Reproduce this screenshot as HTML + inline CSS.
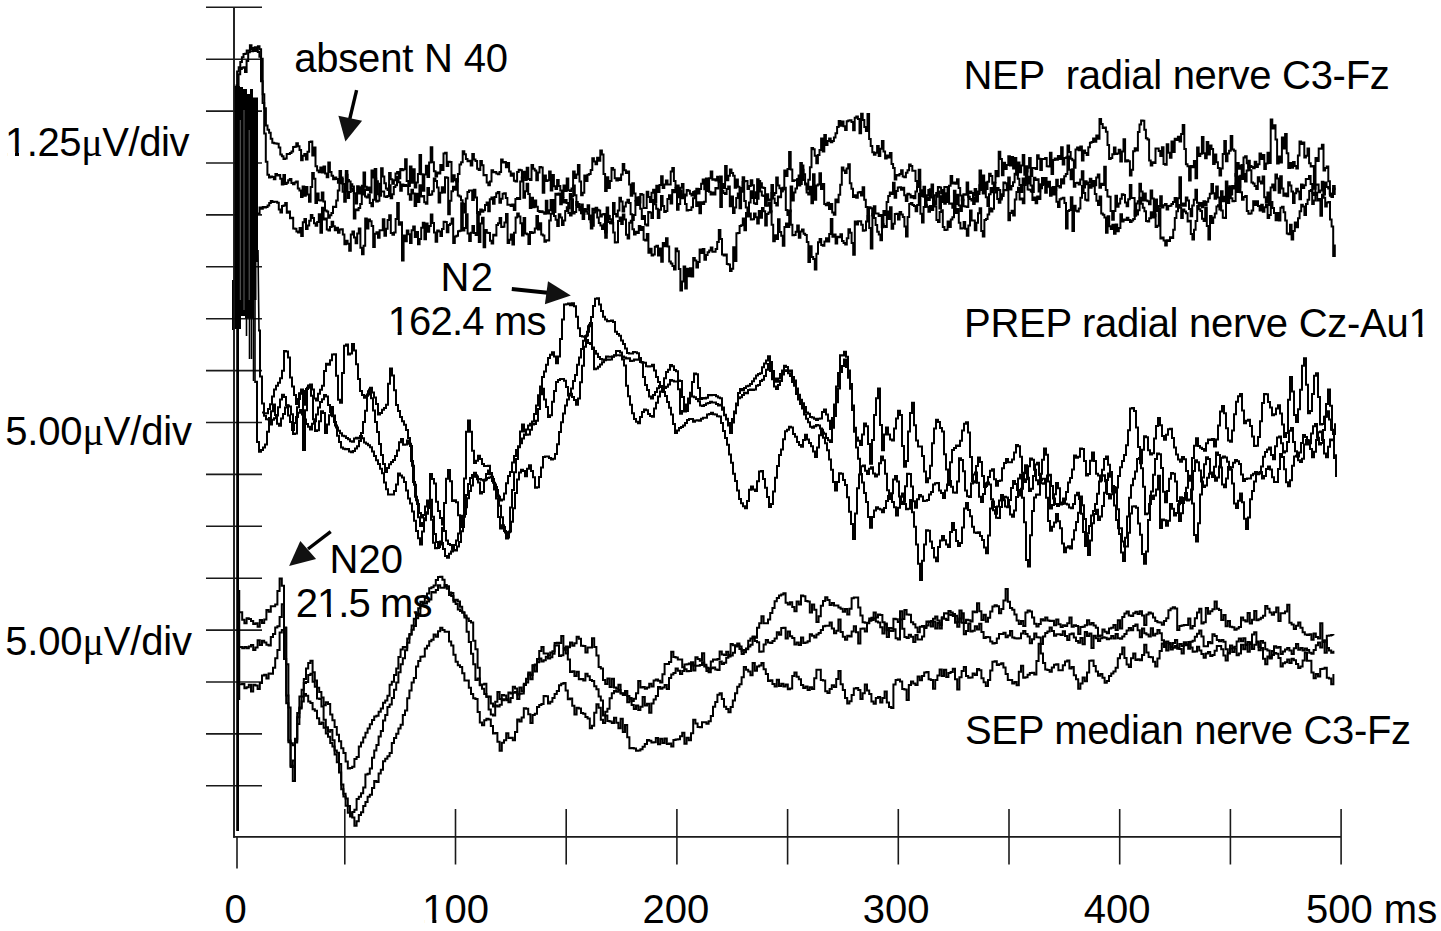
<!DOCTYPE html>
<html><head><meta charset="utf-8"><style>
html,body{margin:0;padding:0;background:#fff;}
svg{display:block;}
text{font-family:"Liberation Sans",sans-serif;font-size:40px;fill:#000;}
.mu{font-family:"Liberation Serif",serif;}
</style></head><body>
<svg width="1441" height="931" viewBox="0 0 1441 931">
<rect width="1441" height="931" fill="#fff"/>
<g stroke="#1a1a1a" stroke-width="1.6" fill="none">
<line x1="206" y1="7.3" x2="262" y2="7.3"/>
<line x1="206" y1="59.2" x2="262" y2="59.2"/>
<line x1="206" y1="111.1" x2="262" y2="111.1"/>
<line x1="206" y1="163.0" x2="262" y2="163.0"/>
<line x1="206" y1="214.9" x2="262" y2="214.9"/>
<line x1="206" y1="266.8" x2="262" y2="266.8"/>
<line x1="206" y1="318.7" x2="262" y2="318.7"/>
<line x1="206" y1="370.6" x2="262" y2="370.6"/>
<line x1="206" y1="422.5" x2="262" y2="422.5"/>
<line x1="206" y1="474.4" x2="262" y2="474.4"/>
<line x1="206" y1="526.3" x2="262" y2="526.3"/>
<line x1="206" y1="578.2" x2="262" y2="578.2"/>
<line x1="206" y1="630.1" x2="262" y2="630.1"/>
<line x1="206" y1="682.0" x2="262" y2="682.0"/>
<line x1="206" y1="733.9" x2="262" y2="733.9"/>
<line x1="206" y1="785.8" x2="262" y2="785.8"/>
<line x1="344.8" y1="809" x2="344.8" y2="864.5"/>
<line x1="455.5" y1="809" x2="455.5" y2="864.5"/>
<line x1="566.2" y1="809" x2="566.2" y2="864.5"/>
<line x1="676.9" y1="809" x2="676.9" y2="864.5"/>
<line x1="787.6" y1="809" x2="787.6" y2="864.5"/>
<line x1="898.3" y1="809" x2="898.3" y2="864.5"/>
<line x1="1009.0" y1="809" x2="1009.0" y2="864.5"/>
<line x1="1119.7" y1="809" x2="1119.7" y2="864.5"/>
<line x1="1230.4" y1="809" x2="1230.4" y2="864.5"/>
<line x1="1341.1" y1="809" x2="1341.1" y2="864.5"/>
<line x1="237" y1="837" x2="237" y2="868.5"/>
<line x1="234" y1="7.3" x2="234" y2="837.8" stroke-width="1.9"/>
<line x1="233.2" y1="836.9" x2="1341" y2="836.9" stroke-width="1.9"/>
</g>
<path d="M234.6,86 H240 V87 H243 V89 H247 V94 H250 V89 H253 V97.6 H258 V262 H256.5 V300 H253 V318 H245 V316 H241 V329 H234.6 Z" fill="#000"/>
<line x1="240.3" y1="120" x2="240.3" y2="300" stroke="#777" stroke-width="0.8"/>
<line x1="244" y1="110" x2="244" y2="310" stroke="#777" stroke-width="0.8"/>
<line x1="249.2" y1="130" x2="249.2" y2="300" stroke="#777" stroke-width="0.8"/>
<path d="M246.5,300.0 L246.5,336.0" fill="none" stroke="#000" stroke-width="1.6"/>
<path d="M249.5,300.0 L249.5,359.0" fill="none" stroke="#000" stroke-width="1.6"/>
<path d="M251.5,300.0 L251.5,359.0" fill="none" stroke="#000" stroke-width="1.6"/>
<path d="M253.5,300.0 L253.5,381.0" fill="none" stroke="#000" stroke-width="1.6"/>
<path d="M258.0,250.0 L258.6,300.0 L259.0,330.0" fill="none" stroke="#000" stroke-width="1.6"/>
<path d="M255.0,300.0 L255.0,383.0" fill="none" stroke="#000" stroke-width="1.6"/>
<path d="M232.8,280.0 L232.8,330.0" fill="none" stroke="#000" stroke-width="1.6"/>
<line x1="237.6" y1="300" x2="237.6" y2="831" stroke="#000" stroke-width="2.8"/>
<line x1="239.5" y1="590" x2="239.5" y2="700" stroke="#000" stroke-width="1.5"/>
<g fill="none" stroke="#000" stroke-width="2" stroke-linejoin="miter">
<path d="M235.5,85.6H237.1V71.4H238.7V67.3H240.3V61.9H241.9V57.2H243.5V53.9H245.1V53.7H246.7V50.5H248.3V50.6H249.9V45.3H251.5V49.1H253.1V47.9H254.7V47.2H256.3V47.6H257.9V46.2H259.5V49.3H261.1V58.7H262.7V94.3H264.3V108.2H265.9V125.6H267.5V129.7H269.1V132.7H270.7V138.7H272.3V142.8H273.9V143.3H275.5V143.5H277.1V143.8H278.7V147.4H280.3V154.4H281.9V156.3H283.5V158.9H285.1V158.4H286.7V154.1H288.3V154.0H289.9V152.9H291.5V151.6H293.1V147.0H294.7V146.7H296.3V143.3H297.9V146.2H299.5V150.0H301.1V160.2H302.7V155.8H304.3V154.1H305.9V159.4H307.5V151.7H309.1V142.1H310.7V141.4H312.3V155.5H313.9V147.5H315.5V166.2H317.1V170.6H318.7V172.3H320.3V167.5H321.9V172.4H323.5V166.4H325.1V173.5H326.7V177.3H328.3V162.4H329.9V172.1H331.5V175.8H333.1V179.2H334.7V177.4H336.3V179.0H337.9V182.8H339.5V171.0H341.1V179.1H342.7V184.1H344.3V191.3H345.9V174.7H347.5V197.9H349.1V192.0H350.7V184.3H352.3V186.6H353.9V193.3H355.5V203.5H357.1V186.3H358.7V193.5H360.3V187.2H361.9V194.6H363.5V172.6H365.1V186.8H366.7V190.0H368.3V187.5H369.9V192.6H371.5V170.4H373.1V177.6H374.7V169.0H376.3V181.3H377.9V194.3H379.5V195.8H381.1V168.3H382.7V176.6H384.3V183.2H385.9V188.4H387.5V189.9H389.1V172.9H390.7V179.2H392.3V183.8H393.9V180.3H395.5V173.5H397.1V172.0H398.7V178.3H400.3V169.1H401.9V170.3H403.5V169.2H405.1V159.2H406.7V180.9H408.3V186.0H409.9V166.4H411.5V182.8H413.1V169.2H414.7V187.6H416.3V182.6H417.9V174.0H419.5V155.0H421.1V174.2H422.7V190.7H424.3V174.6H425.9V165.7H427.5V176.9H429.1V162.6H430.7V147.2H432.3V162.3H433.9V171.3H435.5V176.4H437.1V172.5H438.7V173.6H440.3V165.1H441.9V169.9H443.5V153.5H445.1V152.7H446.7V166.0H448.3V161.8H449.9V162.1H451.5V181.5H453.1V175.3H454.7V180.3H456.3V181.5H457.9V174.0H459.5V164.4H461.1V162.2H462.7V151.3H464.3V154.2H465.9V158.9H467.5V161.3H469.1V160.8H470.7V165.4H472.3V154.1H473.9V159.6H475.5V161.0H477.1V168.8H478.7V170.1H480.3V160.9H481.9V165.3H483.5V175.3H485.1V175.1H486.7V182.4H488.3V185.2H489.9V181.5H491.5V170.2H493.1V172.3H494.7V172.0H496.3V173.5H497.9V174.3H499.5V172.1H501.1V159.6H502.7V162.4H504.3V162.1H505.9V167.2H507.5V162.9H509.1V171.5H510.7V175.8H512.3V173.5H513.9V180.8H515.5V181.5H517.1V172.1H518.7V169.8H520.3V170.2H521.9V177.4H523.5V171.8H525.1V180.1H526.7V167.8H528.3V178.9H529.9V179.9H531.5V165.1H533.1V168.8H534.7V170.4H536.3V180.3H537.9V172.5H539.5V167.0H541.1V167.4H542.7V192.8H544.3V175.4H545.9V181.0H547.5V180.2H549.1V171.5H550.7V190.5H552.3V175.1H553.9V186.2H555.5V189.1H557.1V180.0H558.7V186.1H560.3V190.6H561.9V197.0H563.5V185.5H565.1V190.9H566.7V178.4H568.3V190.3H569.9V190.9H571.5V188.5H573.1V171.6H574.7V178.1H576.3V174.6H577.9V165.0H579.5V181.4H581.1V195.2H582.7V192.7H584.3V175.5H585.9V181.1H587.5V174.8H589.1V174.0H590.7V170.0H592.3V158.2H593.9V161.6H595.5V164.3H597.1V157.8H598.7V160.7H600.3V150.6H601.9V154.5H603.5V173.9H605.1V190.9H606.7V177.2H608.3V188.1H609.9V181.0H611.5V167.9H613.1V169.7H614.7V178.3H616.3V180.4H617.9V178.2H619.5V180.1H621.1V174.6H622.7V164.0H624.3V170.2H625.9V173.1H627.5V171.6H629.1V184.4H630.7V195.7H632.3V183.2H633.9V193.6H635.5V200.6H637.1V197.6H638.7V202.5H640.3V193.9H641.9V194.8H643.5V208.0H645.1V207.9H646.7V191.7H648.3V196.9H649.9V201.9H651.5V192.7H653.1V189.8H654.7V201.9H656.3V185.8H657.9V191.9H659.5V184.9H661.1V176.3H662.7V187.9H664.3V184.4H665.9V180.4H667.5V184.5H669.1V184.5H670.7V171.5H672.3V168.0H673.9V181.1H675.5V186.9H677.1V185.5H678.7V197.2H680.3V187.7H681.9V183.9H683.5V197.0H685.1V195.5H686.7V189.9H688.3V190.8H689.9V193.7H691.5V195.5H693.1V191.9H694.7V194.0H696.3V188.8H697.9V193.5H699.5V189.1H701.1V183.7H702.7V179.6H704.3V189.3H705.9V178.6H707.5V190.7H709.1V178.2H710.7V171.5H712.3V179.7H713.9V179.2H715.5V180.5H717.1V176.8H718.7V182.1H720.3V206.9H721.9V183.9H723.5V187.9H725.1V166.0H726.7V180.2H728.3V175.8H729.9V169.6H731.5V172.9H733.1V175.8H734.7V187.8H736.3V179.5H737.9V186.7H739.5V208.3H741.1V188.1H742.7V182.1H744.3V181.0H745.9V181.1H747.5V189.1H749.1V186.0H750.7V180.3H752.3V185.3H753.9V203.2H755.5V203.9H757.1V179.2H758.7V184.2H760.3V183.3H761.9V187.6H763.5V188.1H765.1V205.5H766.7V205.7H768.3V203.0H769.9V211.5H771.5V193.0H773.1V198.5H774.7V203.1H776.3V205.5H777.9V196.5H779.5V197.3H781.1V191.1H782.7V189.5H784.3V170.4H785.9V176.0H787.5V169.0H789.1V152.1H790.7V169.4H792.3V181.1H793.9V180.3H795.5V180.2H797.1V179.0H798.7V185.5H800.3V162.9H801.9V169.8H803.5V174.2H805.1V184.4H806.7V189.4H808.3V179.7H809.9V167.3H811.5V148.1H813.1V149.3H814.7V155.8H816.3V163.2H817.9V155.1H819.5V149.9H821.1V138.6H822.7V151.4H824.3V135.0H825.9V145.1H827.5V140.9H829.1V138.4H830.7V142.3H832.3V140.9H833.9V137.5H835.5V133.3H837.1V127.1H838.7V120.9H840.3V125.7H841.9V121.5H843.5V126.2H845.1V130.0H846.7V121.3H848.3V120.4H849.9V120.3H851.5V122.1H853.1V130.3H854.7V117.8H856.3V116.6H857.9V119.1H859.5V133.2H861.1V113.8H862.7V119.9H864.3V126.9H865.9V130.9H867.5V113.9H869.1V139.0H870.7V146.0H872.3V152.2H873.9V154.8H875.5V152.7H877.1V145.9H878.7V156.0H880.3V148.8H881.9V141.1H883.5V151.5H885.1V158.4H886.7V155.5H888.3V157.5H889.9V153.0H891.5V164.1H893.1V167.9H894.7V179.4H896.3V175.1H897.9V175.5H899.5V174.0H901.1V170.2H902.7V176.6H904.3V177.2H905.9V172.8H907.5V170.2H909.1V164.4H910.7V166.0H912.3V170.7H913.9V170.7H915.5V181.0H917.1V185.0H918.7V169.7H920.3V190.3H921.9V195.8H923.5V186.8H925.1V198.4H926.7V195.2H928.3V189.9H929.9V191.5H931.5V184.6H933.1V201.5H934.7V204.6H936.3V196.7H937.9V186.9H939.5V187.5H941.1V193.1H942.7V202.0H944.3V187.1H945.9V187.1H947.5V196.2H949.1V203.7H950.7V203.5H952.3V207.7H953.9V190.7H955.5V203.9H957.1V194.7H958.7V205.6H960.3V210.9H961.9V199.8H963.5V206.2H965.1V206.4H966.7V207.1H968.3V192.9H969.9V191.5H971.5V193.0H973.1V203.9H974.7V197.2H976.3V201.4H977.9V193.9H979.5V170.4H981.1V183.9H982.7V193.6H984.3V182.6H985.9V188.9H987.5V181.7H989.1V173.8H990.7V176.1H992.3V183.8H993.9V182.6H995.5V170.9H997.1V176.2H998.7V151.7H1000.3V158.9H1001.9V175.3H1003.5V162.8H1005.1V168.9H1006.7V165.0H1008.3V156.2H1009.9V165.4H1011.5V157.1H1013.1V168.6H1014.7V157.9H1016.3V174.7H1017.9V162.5H1019.5V172.3H1021.1V165.4H1022.7V155.0H1024.3V174.7H1025.9V171.5H1027.5V167.8H1029.1V157.9H1030.7V176.0H1032.3V167.9H1033.9V168.0H1035.5V168.9H1037.1V155.3H1038.7V158.7H1040.3V169.9H1041.9V158.9H1043.5V159.1H1045.1V157.9H1046.7V166.3H1048.3V166.5H1049.9V152.7H1051.5V173.9H1053.1V160.0H1054.7V158.5H1056.3V159.7H1057.9V155.9H1059.5V159.1H1061.1V147.3H1062.7V164.6H1064.3V158.0H1065.9V157.6H1067.5V145.6H1069.1V151.9H1070.7V158.8H1072.3V160.2H1073.9V167.7H1075.5V149.5H1077.1V147.6H1078.7V150.3H1080.3V146.5H1081.9V160.5H1083.5V150.4H1085.1V153.0H1086.7V155.0H1088.3V147.2H1089.9V142.8H1091.5V142.1H1093.1V138.5H1094.7V141.7H1096.3V135.5H1097.9V138.8H1099.5V119.1H1101.1V124.1H1102.7V128.0H1104.3V127.4H1105.9V131.8H1107.5V144.9H1109.1V159.1H1110.7V158.0H1112.3V154.2H1113.9V147.4H1115.5V153.9H1117.1V153.4H1118.7V149.7H1120.3V161.6H1121.9V151.5H1123.5V139.2H1125.1V161.4H1126.7V160.3H1128.3V161.3H1129.9V175.6H1131.5V169.8H1133.1V151.2H1134.7V148.3H1136.3V150.5H1137.9V132.1H1139.5V124.4H1141.1V120.4H1142.7V120.8H1144.3V129.7H1145.9V138.3H1147.5V139.5H1149.1V160.6H1150.7V165.5H1152.3V162.2H1153.9V163.1H1155.5V148.5H1157.1V148.4H1158.7V151.0H1160.3V156.0H1161.9V147.2H1163.5V164.0H1165.1V164.8H1166.7V144.2H1168.3V152.8H1169.9V157.8H1171.5V141.6H1173.1V152.1H1174.7V138.8H1176.3V140.0H1177.9V136.7H1179.5V141.5H1181.1V134.1H1182.7V125.1H1184.3V149.0H1185.9V164.3H1187.5V166.2H1189.1V180.6H1190.7V166.1H1192.3V167.2H1193.9V161.0H1195.5V178.3H1197.1V147.6H1198.7V155.9H1200.3V153.7H1201.9V137.1H1203.5V153.2H1205.1V158.3H1206.7V142.1H1208.3V154.5H1209.9V145.4H1211.5V148.9H1213.1V163.9H1214.7V154.5H1216.3V162.3H1217.9V167.9H1219.5V175.4H1221.1V168.6H1222.7V154.0H1224.3V141.0H1225.9V161.2H1227.5V153.4H1229.1V150.7H1230.7V136.1H1232.3V149.4H1233.9V150.8H1235.5V175.8H1237.1V163.1H1238.7V168.8H1240.3V165.4H1241.9V179.0H1243.5V157.5H1245.1V156.3H1246.7V163.3H1248.3V167.2H1249.9V166.1H1251.5V167.1H1253.1V168.3H1254.7V161.7H1256.3V167.1H1257.9V164.3H1259.5V153.5H1261.1V159.1H1262.7V154.9H1264.3V169.0H1265.9V163.5H1267.5V152.8H1269.1V163.0H1270.7V119.4H1272.3V128.6H1273.9V125.3H1275.5V139.5H1277.1V163.6H1278.7V156.6H1280.3V162.5H1281.9V137.6H1283.5V148.4H1285.1V134.0H1286.7V153.3H1288.3V168.1H1289.9V162.9H1291.5V167.8H1293.1V161.9H1294.7V166.1H1296.3V168.6H1297.9V155.4H1299.5V141.4H1301.1V144.1H1302.7V142.6H1304.3V157.6H1305.9V155.8H1307.5V148.6H1309.1V163.3H1310.7V166.4H1312.3V166.0H1313.9V188.7H1315.5V158.0H1317.1V160.9H1318.7V148.4H1320.3V148.8H1321.9V144.7H1323.5V170.5H1325.1V168.0H1326.7V166.6H1328.3V181.2H1329.9V195.8H1331.5V193.7H1333.1V186.0H1334.7V195.1"/>
<path d="M237.0,88.2H238.6V74.3H240.2V69.1H241.8V67.8H243.4V67.3H245.0V72.0H246.6V60.9H248.2V52.2H249.8V51.3H251.4V51.2H253.0V50.1H254.6V50.9H256.2V48.4H257.8V52.1H259.4V56.7H261.0V81.2H262.6V103.0H264.2V133.6H265.8V161.8H267.4V174.8H269.0V177.5H270.6V176.6H272.2V177.1H273.8V179.2H275.4V174.1H277.0V175.4H278.6V175.1H280.2V178.8H281.8V184.6H283.4V175.0H285.0V184.0H286.6V182.7H288.2V180.2H289.8V179.1H291.4V182.9H293.0V184.2H294.6V182.4H296.2V181.5H297.8V188.4H299.4V190.5H301.0V196.9H302.6V186.6H304.2V195.8H305.8V187.1H307.4V194.6H309.0V201.8H310.6V187.1H312.2V173.1H313.8V178.7H315.4V203.0H317.0V193.5H318.6V200.2H320.2V200.5H321.8V192.4H323.4V201.5H325.0V210.6H326.6V211.6H328.2V217.7H329.8V215.3H331.4V212.9H333.0V206.7H334.6V207.0H336.2V200.4H337.8V190.5H339.4V183.3H341.0V177.4H342.6V191.8H344.2V201.8H345.8V170.9H347.4V180.0H349.0V181.4H350.6V188.4H352.2V191.1H353.8V218.6H355.4V209.6H357.0V210.3H358.6V207.9H360.2V204.0H361.8V185.8H363.4V189.5H365.0V196.6H366.6V197.6H368.2V194.6H369.8V203.0H371.4V206.2H373.0V199.7H374.6V178.4H376.2V201.6H377.8V200.7H379.4V183.7H381.0V191.6H382.6V191.6H384.2V196.5H385.8V197.0H387.4V196.0H389.0V185.3H390.6V198.3H392.2V194.3H393.8V186.9H395.4V185.3H397.0V176.9H398.6V182.3H400.2V190.8H401.8V184.6H403.4V186.1H405.0V185.0H406.6V186.1H408.2V194.2H409.8V199.8H411.4V189.8H413.0V193.4H414.6V205.9H416.2V193.8H417.8V202.1H419.4V185.2H421.0V196.6H422.6V196.0H424.2V202.2H425.8V203.8H427.4V187.9H429.0V194.9H430.6V194.6H432.2V191.2H433.8V178.4H435.4V180.9H437.0V187.6H438.6V202.4H440.2V192.8H441.8V187.3H443.4V192.6H445.0V177.3H446.6V177.8H448.2V214.2H449.8V200.7H451.4V191.2H453.0V186.8H454.6V189.8H456.2V178.9H457.8V195.4H459.4V196.5H461.0V200.3H462.6V203.8H464.2V212.6H465.8V198.4H467.4V192.1H469.0V190.5H470.6V190.6H472.2V200.0H473.8V189.7H475.4V197.6H477.0V213.0H478.6V214.4H480.2V209.5H481.8V211.8H483.4V210.2H485.0V204.9H486.6V202.6H488.2V211.2H489.8V199.2H491.4V197.6H493.0V203.7H494.6V197.0H496.2V193.2H497.8V192.0H499.4V202.8H501.0V198.7H502.6V193.7H504.2V193.2H505.8V197.9H507.4V204.7H509.0V204.7H510.6V206.1H512.2V204.6H513.8V210.1H515.4V199.0H517.0V198.1H518.6V198.9H520.2V181.4H521.8V177.6H523.4V197.7H525.0V191.3H526.6V183.8H528.2V193.9H529.8V208.0H531.4V197.8H533.0V207.3H534.6V200.5H536.2V206.8H537.8V211.1H539.4V211.9H541.0V211.2H542.6V212.2H544.2V213.8H545.8V200.7H547.4V213.4H549.0V210.2H550.6V200.1H552.2V210.6H553.8V211.9H555.4V193.8H557.0V194.8H558.6V193.5H560.2V204.3H561.8V198.3H563.4V202.5H565.0V200.1H566.6V202.9H568.2V208.3H569.8V193.9H571.4V199.3H573.0V213.4H574.6V212.0H576.2V202.0H577.8V204.0H579.4V210.3H581.0V213.3H582.6V218.9H584.2V209.1H585.8V211.6H587.4V213.7H589.0V219.3H590.6V222.2H592.2V225.8H593.8V212.5H595.4V209.9H597.0V209.8H598.6V210.4H600.2V216.6H601.8V214.6H603.4V214.1H605.0V232.4H606.6V207.5H608.2V216.0H609.8V219.2H611.4V223.2H613.0V203.0H614.6V214.0H616.2V216.4H617.8V210.6H619.4V197.8H621.0V201.4H622.6V211.4H624.2V206.5H625.8V202.5H627.4V199.7H629.0V203.0H630.6V214.2H632.2V220.0H633.8V215.1H635.4V201.1H637.0V205.0H638.6V197.3H640.2V208.8H641.8V219.0H643.4V215.9H645.0V224.6H646.6V225.6H648.2V211.9H649.8V212.4H651.4V218.0H653.0V199.9H654.6V204.2H656.2V208.7H657.8V217.9H659.4V209.8H661.0V196.0H662.6V205.9H664.2V212.0H665.8V211.0H667.4V198.9H669.0V195.3H670.6V203.5H672.2V190.0H673.8V192.3H675.4V188.3H677.0V209.7H678.6V204.0H680.2V190.5H681.8V198.3H683.4V194.5H685.0V203.9H686.6V210.6H688.2V209.9H689.8V210.0H691.4V207.3H693.0V198.3H694.6V191.3H696.2V205.9H697.8V202.2H699.4V213.3H701.0V202.2H702.6V203.9H704.2V201.7H705.8V191.0H707.4V185.0H709.0V191.8H710.6V194.5H712.2V192.5H713.8V194.6H715.4V188.1H717.0V188.6H718.6V180.0H720.2V176.4H721.8V190.8H723.4V193.1H725.0V194.0H726.6V188.9H728.2V186.4H729.8V206.3H731.4V196.5H733.0V213.0H734.6V207.6H736.2V197.9H737.8V193.5H739.4V198.1H741.0V191.8H742.6V177.2H744.2V201.1H745.8V207.5H747.4V215.0H749.0V202.5H750.6V191.3H752.2V197.9H753.8V198.1H755.4V192.2H757.0V198.7H758.6V181.0H760.2V191.4H761.8V195.5H763.4V195.9H765.0V205.4H766.6V194.3H768.2V200.5H769.8V199.4H771.4V185.1H773.0V195.3H774.6V192.9H776.2V177.5H777.8V185.6H779.4V188.3H781.0V191.6H782.6V187.8H784.2V187.7H785.8V210.1H787.4V215.0H789.0V211.2H790.6V186.5H792.2V200.4H793.8V192.6H795.4V188.4H797.0V180.7H798.6V175.6H800.2V184.0H801.8V165.6H803.4V180.0H805.0V183.5H806.6V192.4H808.2V194.5H809.8V186.7H811.4V203.3H813.0V174.2H814.6V199.7H816.2V185.5H817.8V184.5H819.4V173.3H821.0V188.9H822.6V184.1H824.2V203.9H825.8V205.2H827.4V202.7H829.0V209.1H830.6V204.1H832.2V212.6H833.8V214.7H835.4V199.4H837.0V202.2H838.6V194.7H840.2V184.8H841.8V167.4H843.4V170.6H845.0V173.1H846.6V168.4H848.2V164.2H849.8V183.3H851.4V188.8H853.0V197.0H854.6V195.3H856.2V197.8H857.8V192.4H859.4V191.9H861.0V195.5H862.6V187.3H864.2V199.7H865.8V207.0H867.4V219.7H869.0V207.3H870.6V208.2H872.2V215.4H873.8V206.3H875.4V213.4H877.0V213.4H878.6V215.9H880.2V215.1H881.8V227.2H883.4V211.0H885.0V215.0H886.6V202.1H888.2V195.9H889.8V192.5H891.4V193.9H893.0V182.8H894.6V197.7H896.2V191.0H897.8V187.6H899.4V187.2H901.0V189.7H902.6V187.7H904.2V195.2H905.8V201.0H907.4V193.8H909.0V194.6H910.6V197.6H912.2V196.1H913.8V198.2H915.4V191.4H917.0V186.9H918.6V182.1H920.2V196.1H921.8V191.7H923.4V196.8H925.0V206.5H926.6V197.4H928.2V200.0H929.8V189.2H931.4V197.5H933.0V205.0H934.6V195.3H936.2V192.9H937.8V191.5H939.4V208.6H941.0V196.3H942.6V190.0H944.2V203.7H945.8V193.3H947.4V202.0H949.0V185.7H950.6V176.1H952.2V183.6H953.8V182.6H955.4V183.7H957.0V179.2H958.6V188.1H960.2V195.4H961.8V200.2H963.4V194.3H965.0V194.7H966.6V182.6H968.2V196.8H969.8V199.0H971.4V200.4H973.0V194.9H974.6V189.1H976.2V199.5H977.8V191.6H979.4V185.2H981.0V190.0H982.6V175.5H984.2V184.7H985.8V197.3H987.4V206.1H989.0V194.3H990.6V188.1H992.2V192.2H993.8V182.9H995.4V189.7H997.0V188.1H998.6V189.9H1000.2V199.5H1001.8V194.2H1003.4V182.5H1005.0V183.3H1006.6V184.6H1008.2V177.4H1009.8V189.6H1011.4V186.1H1013.0V182.3H1014.6V173.8H1016.2V168.8H1017.8V178.7H1019.4V185.1H1021.0V191.9H1022.6V178.4H1024.2V185.0H1025.8V166.2H1027.4V183.6H1029.0V176.8H1030.6V185.4H1032.2V192.0H1033.8V177.8H1035.4V179.9H1037.0V179.3H1038.6V191.4H1040.2V184.3H1041.8V184.9H1043.4V183.6H1045.0V178.0H1046.6V186.8H1048.2V181.9H1049.8V187.5H1051.4V188.0H1053.0V187.0H1054.6V190.0H1056.2V179.8H1057.8V186.1H1059.4V187.4H1061.0V179.2H1062.6V183.6H1064.2V176.3H1065.8V174.1H1067.4V156.5H1069.0V169.7H1070.6V179.3H1072.2V169.2H1073.8V186.7H1075.4V182.9H1077.0V182.7H1078.6V184.4H1080.2V179.5H1081.8V171.3H1083.4V187.6H1085.0V181.2H1086.6V184.2H1088.2V182.6H1089.8V178.8H1091.4V185.0H1093.0V181.0H1094.6V185.3H1096.2V177.5H1097.8V174.6H1099.4V187.7H1101.0V183.8H1102.6V185.0H1104.2V166.8H1105.8V190.0H1107.4V196.5H1109.0V196.7H1110.6V211.1H1112.2V219.8H1113.8V211.0H1115.4V195.7H1117.0V206.8H1118.6V203.6H1120.2V198.8H1121.8V194.3H1123.4V194.9H1125.0V202.4H1126.6V206.2H1128.2V199.2H1129.8V185.0H1131.4V198.0H1133.0V198.0H1134.6V215.8H1136.2V203.5H1137.8V201.3H1139.4V183.7H1141.0V191.6H1142.6V200.5H1144.2V193.5H1145.8V200.4H1147.4V201.3H1149.0V204.2H1150.6V190.6H1152.2V198.5H1153.8V216.0H1155.4V199.6H1157.0V211.0H1158.6V205.9H1160.2V196.2H1161.8V207.4H1163.4V205.2H1165.0V204.0H1166.6V209.4H1168.2V205.9H1169.8V205.7H1171.4V204.1H1173.0V202.1H1174.6V198.1H1176.2V206.7H1177.8V198.3H1179.4V177.3H1181.0V205.7H1182.6V203.5H1184.2V205.7H1185.8V197.4H1187.4V200.4H1189.0V208.9H1190.6V216.3H1192.2V205.4H1193.8V199.8H1195.4V189.8H1197.0V202.7H1198.6V205.7H1200.2V203.1H1201.8V207.3H1203.4V201.3H1205.0V205.0H1206.6V201.8H1208.2V198.3H1209.8V193.7H1211.4V184.1H1213.0V193.3H1214.6V198.7H1216.2V186.5H1217.8V197.4H1219.4V209.4H1221.0V191.2H1222.6V201.3H1224.2V196.7H1225.8V181.5H1227.4V200.2H1229.0V187.7H1230.6V194.6H1232.2V186.1H1233.8V188.6H1235.4V174.1H1237.0V187.1H1238.6V186.8H1240.2V175.8H1241.8V165.0H1243.4V174.0H1245.0V181.4H1246.6V170.6H1248.2V160.7H1249.8V170.2H1251.4V182.6H1253.0V183.5H1254.6V185.9H1256.2V189.1H1257.8V177.3H1259.4V181.5H1261.0V183.5H1262.6V176.5H1264.2V197.2H1265.8V202.8H1267.4V192.6H1269.0V204.9H1270.6V187.5H1272.2V184.4H1273.8V190.3H1275.4V174.4H1277.0V178.4H1278.6V192.8H1280.2V176.2H1281.8V188.6H1283.4V195.8H1285.0V193.5H1286.6V196.3H1288.2V182.3H1289.8V185.6H1291.4V191.6H1293.0V202.9H1294.6V193.3H1296.2V188.8H1297.8V191.4H1299.4V199.3H1301.0V184.5H1302.6V188.0H1304.2V185.2H1305.8V179.0H1307.4V178.9H1309.0V175.9H1310.6V184.1H1312.2V203.9H1313.8V200.4H1315.4V184.8H1317.0V184.6H1318.6V192.3H1320.2V190.5H1321.8V181.8H1323.4V194.6H1325.0V182.4H1326.6V187.1H1328.2V188.6H1329.8V193.8H1331.4V197.1H1333.0V189.1H1334.6V187.5"/>
<path d="M258.0,213.6H259.6V207.4H261.2V208.7H262.8V207.0H264.4V207.4H266.0V206.9H267.6V205.5H269.2V203.1H270.8V201.0H272.4V202.1H274.0V201.8H275.6V201.8H277.2V202.7H278.8V209.4H280.4V212.5H282.0V205.9H283.6V205.5H285.2V203.0H286.8V212.7H288.4V211.4H290.0V218.3H291.6V217.8H293.2V228.5H294.8V228.7H296.4V231.4H298.0V232.4H299.6V228.1H301.2V236.0H302.8V222.2H304.4V218.9H306.0V228.9H307.6V225.4H309.2V220.8H310.8V215.0H312.4V218.1H314.0V223.3H315.6V225.7H317.2V222.1H318.8V214.2H320.4V232.7H322.0V207.8H323.6V219.6H325.2V218.5H326.8V229.5H328.4V230.5H330.0V226.9H331.6V221.7H333.2V226.2H334.8V230.3H336.4V227.8H338.0V232.8H339.6V229.6H341.2V229.2H342.8V234.5H344.4V244.2H346.0V240.7H347.6V243.8H349.2V250.8H350.8V234.4H352.4V231.5H354.0V237.4H355.6V243.3H357.2V233.4H358.8V228.6H360.4V247.8H362.0V254.2H363.6V245.7H365.2V218.6H366.8V228.4H368.4V219.5H370.0V221.2H371.6V226.0H373.2V247.0H374.8V233.8H376.4V232.3H378.0V237.8H379.6V230.2H381.2V230.3H382.8V219.3H384.4V235.8H386.0V228.8H387.6V220.0H389.2V215.3H390.8V233.1H392.4V234.7H394.0V232.6H395.6V219.0H397.2V202.9H398.8V224.7H400.4V222.3H402.0V260.5H403.6V235.5H405.2V241.3H406.8V230.6H408.4V234.2H410.0V242.9H411.6V230.2H413.2V226.5H414.8V237.1H416.4V232.1H418.0V244.3H419.6V238.9H421.2V227.8H422.8V222.8H424.4V239.3H426.0V223.6H427.6V231.8H429.2V226.1H430.8V214.4H432.4V222.9H434.0V232.5H435.6V241.8H437.2V230.5H438.8V231.4H440.4V235.9H442.0V229.0H443.6V221.7H445.2V222.1H446.8V232.2H448.4V225.1H450.0V223.8H451.6V218.6H453.2V243.0H454.8V236.6H456.4V235.8H458.0V231.3H459.6V230.7H461.2V203.3H462.8V230.4H464.4V228.0H466.0V214.3H467.6V233.5H469.2V241.0H470.8V232.8H472.4V226.1H474.0V232.9H475.6V235.0H477.2V212.1H478.8V242.1H480.4V223.4H482.0V217.7H483.6V247.2H485.2V230.1H486.8V232.8H488.4V233.0H490.0V240.8H491.6V243.6H493.2V234.7H494.8V235.6H496.4V225.0H498.0V223.3H499.6V218.0H501.2V227.1H502.8V226.7H504.4V222.4H506.0V214.1H507.6V243.0H509.2V239.7H510.8V234.6H512.4V244.4H514.0V232.8H515.6V217.4H517.2V213.5H518.8V216.5H520.4V223.3H522.0V235.4H523.6V218.1H525.2V233.5H526.8V234.2H528.4V244.1H530.0V232.0H531.6V233.1H533.2V232.5H534.8V228.4H536.4V216.0H538.0V229.6H539.6V223.2H541.2V234.6H542.8V235.4H544.4V241.7H546.0V240.2H547.6V240.4H549.2V220.5H550.8V213.8H552.4V199.9H554.0V215.9H555.6V219.8H557.2V225.9H558.8V214.2H560.4V217.5H562.0V225.1H563.6V220.4H565.2V210.9H566.8V207.2H568.4V212.9H570.0V215.5H571.6V196.2H573.2V185.5H574.8V195.2H576.4V205.1H578.0V206.9H579.6V209.3H581.2V204.6H582.8V214.0H584.4V209.7H586.0V209.8H587.6V205.2H589.2V215.4H590.8V228.4H592.4V208.7H594.0V210.8H595.6V207.7H597.2V217.4H598.8V223.0H600.4V225.4H602.0V228.9H603.6V224.2H605.2V237.8H606.8V215.6H608.4V222.1H610.0V223.3H611.6V223.0H613.2V232.5H614.8V242.5H616.4V242.2H618.0V221.1H619.6V217.5H621.2V224.0H622.8V214.6H624.4V219.5H626.0V234.8H627.6V238.4H629.2V222.7H630.8V220.8H632.4V229.3H634.0V234.5H635.6V231.7H637.2V233.1H638.8V226.1H640.4V230.0H642.0V226.9H643.6V239.8H645.2V240.5H646.8V234.0H648.4V252.7H650.0V248.8H651.6V255.6H653.2V254.5H654.8V246.8H656.4V245.8H658.0V255.6H659.6V248.6H661.2V261.8H662.8V243.1H664.4V246.3H666.0V238.3H667.6V246.5H669.2V261.5H670.8V263.5H672.4V266.0H674.0V269.6H675.6V248.6H677.2V251.2H678.8V269.1H680.4V290.5H682.0V281.6H683.6V266.4H685.2V288.6H686.8V268.8H688.4V276.2H690.0V268.2H691.6V276.4H693.2V257.9H694.8V260.5H696.4V267.6H698.0V261.9H699.6V249.5H701.2V253.1H702.8V248.9H704.4V259.7H706.0V255.0H707.6V252.3H709.2V250.6H710.8V247.4H712.4V251.7H714.0V251.7H715.6V249.0H717.2V241.9H718.8V230.0H720.4V239.1H722.0V254.4H723.6V255.6H725.2V254.5H726.8V264.0H728.4V264.4H730.0V271.0H731.6V268.8H733.2V247.2H734.8V260.9H736.4V233.3H738.0V233.1H739.6V225.9H741.2V225.2H742.8V218.4H744.4V230.3H746.0V213.1H747.6V216.4H749.2V213.4H750.8V219.4H752.4V219.2H754.0V213.4H755.6V217.2H757.2V223.5H758.8V210.9H760.4V217.7H762.0V208.1H763.6V211.3H765.2V225.4H766.8V213.9H768.4V212.6H770.0V211.2H771.6V224.7H773.2V241.2H774.8V235.3H776.4V238.9H778.0V219.2H779.6V232.0H781.2V235.8H782.8V245.7H784.4V226.9H786.0V223.4H787.6V227.0H789.2V210.5H790.8V224.7H792.4V235.2H794.0V234.9H795.6V231.7H797.2V225.6H798.8V237.8H800.4V231.5H802.0V229.6H803.6V233.7H805.2V234.9H806.8V242.1H808.4V261.9H810.0V246.2H811.6V257.1H813.2V258.9H814.8V269.4H816.4V253.7H818.0V242.3H819.6V238.9H821.2V245.1H822.8V245.8H824.4V241.5H826.0V238.3H827.6V241.5H829.2V234.0H830.8V219.0H832.4V236.7H834.0V234.5H835.6V243.6H837.2V236.7H838.8V237.2H840.4V234.3H842.0V241.0H843.6V243.1H845.2V244.5H846.8V238.2H848.4V229.3H850.0V232.8H851.6V243.1H853.2V254.8H854.8V221.4H856.4V224.6H858.0V221.2H859.6V221.3H861.2V224.8H862.8V230.7H864.4V230.3H866.0V221.5H867.6V216.0H869.2V228.0H870.8V248.6H872.4V213.9H874.0V217.9H875.6V225.0H877.2V231.7H878.8V234.6H880.4V240.2H882.0V224.3H883.6V226.0H885.2V227.0H886.8V211.4H888.4V219.1H890.0V207.2H891.6V228.8H893.2V223.8H894.8V213.9H896.4V213.8H898.0V219.6H899.6V212.0H901.2V214.4H902.8V217.1H904.4V226.4H906.0V236.6H907.6V217.0H909.2V204.1H910.8V203.1H912.4V205.0H914.0V206.0H915.6V211.2H917.2V204.9H918.8V193.8H920.4V213.7H922.0V222.4H923.6V206.9H925.2V204.7H926.8V206.7H928.4V211.7H930.0V205.9H931.6V209.9H933.2V206.4H934.8V206.6H936.4V219.9H938.0V221.9H939.6V212.0H941.2V210.3H942.8V227.1H944.4V230.0H946.0V229.8H947.6V221.6H949.2V227.0H950.8V219.5H952.4V217.3H954.0V205.4H955.6V212.9H957.2V209.1H958.8V222.8H960.4V228.4H962.0V228.3H963.6V222.1H965.2V228.7H966.8V235.8H968.4V225.4H970.0V210.4H971.6V220.4H973.2V220.4H974.8V230.3H976.4V222.7H978.0V213.3H979.6V208.3H981.2V230.9H982.8V236.5H984.4V220.1H986.0V219.1H987.6V214.6H989.2V208.3H990.8V211.5H992.4V208.8H994.0V192.4H995.6V190.9H997.2V199.1H998.8V202.7H1000.4V197.9H1002.0V196.0H1003.6V189.9H1005.2V190.2H1006.8V185.9H1008.4V220.3H1010.0V213.0H1011.6V210.8H1013.2V215.4H1014.8V199.4H1016.4V192.0H1018.0V187.8H1019.6V199.6H1021.2V198.6H1022.8V203.3H1024.4V179.2H1026.0V179.5H1027.6V189.5H1029.2V189.8H1030.8V191.5H1032.4V200.0H1034.0V197.6H1035.6V203.3H1037.2V196.6H1038.8V198.9H1040.4V188.2H1042.0V178.0H1043.6V183.5H1045.2V192.8H1046.8V184.7H1048.4V181.8H1050.0V195.7H1051.6V188.8H1053.2V194.4H1054.8V187.3H1056.4V201.8H1058.0V207.0H1059.6V199.2H1061.2V198.5H1062.8V197.7H1064.4V203.1H1066.0V228.4H1067.6V211.1H1069.2V210.1H1070.8V197.3H1072.4V231.0H1074.0V205.8H1075.6V210.8H1077.2V211.5H1078.8V208.4H1080.4V197.8H1082.0V186.1H1083.6V192.9H1085.2V199.8H1086.8V200.5H1088.4V184.8H1090.0V187.8H1091.6V184.7H1093.2V186.3H1094.8V194.1H1096.4V200.7H1098.0V205.0H1099.6V196.4H1101.2V213.4H1102.8V214.7H1104.4V217.5H1106.0V232.7H1107.6V216.3H1109.2V226.3H1110.8V228.9H1112.4V224.7H1114.0V233.7H1115.6V224.5H1117.2V231.2H1118.8V228.0H1120.4V214.3H1122.0V221.6H1123.6V219.6H1125.2V220.0H1126.8V217.8H1128.4V219.9H1130.0V222.0H1131.6V220.6H1133.2V219.0H1134.8V210.8H1136.4V214.4H1138.0V210.2H1139.6V197.7H1141.2V203.8H1142.8V207.7H1144.4V211.2H1146.0V221.1H1147.6V221.4H1149.2V218.2H1150.8V212.2H1152.4V217.5H1154.0V214.6H1155.6V227.1H1157.2V225.8H1158.8V208.3H1160.4V238.5H1162.0V237.6H1163.6V240.6H1165.2V245.4H1166.8V240.2H1168.4V241.1H1170.0V237.2H1171.6V237.9H1173.2V229.7H1174.8V217.9H1176.4V211.2H1178.0V204.9H1179.6V207.7H1181.2V218.1H1182.8V209.5H1184.4V211.4H1186.0V213.2H1187.6V221.6H1189.2V220.8H1190.8V233.9H1192.4V239.6H1194.0V229.8H1195.6V220.9H1197.2V206.1H1198.8V209.3H1200.4V211.1H1202.0V218.8H1203.6V221.0H1205.2V207.5H1206.8V226.1H1208.4V239.4H1210.0V216.1H1211.6V222.9H1213.2V217.5H1214.8V213.5H1216.4V206.4H1218.0V205.2H1219.6V206.0H1221.2V210.6H1222.8V217.7H1224.4V218.1H1226.0V197.5H1227.6V203.1H1229.2V186.2H1230.8V198.3H1232.4V201.2H1234.0V200.9H1235.6V183.5H1237.2V192.0H1238.8V176.4H1240.4V192.3H1242.0V199.7H1243.6V197.0H1245.2V195.9H1246.8V210.9H1248.4V213.7H1250.0V213.6H1251.6V210.4H1253.2V201.3H1254.8V204.9H1256.4V201.3H1258.0V205.9H1259.6V210.4H1261.2V204.7H1262.8V211.7H1264.4V207.2H1266.0V205.0H1267.6V217.9H1269.2V215.0H1270.8V201.9H1272.4V208.0H1274.0V213.0H1275.6V220.3H1277.2V212.9H1278.8V220.4H1280.4V207.7H1282.0V206.7H1283.6V212.3H1285.2V220.6H1286.8V233.4H1288.4V234.3H1290.0V224.7H1291.6V239.6H1293.2V230.9H1294.8V222.5H1296.4V227.3H1298.0V218.3H1299.6V211.3H1301.2V204.7H1302.8V206.4H1304.4V215.1H1306.0V203.9H1307.6V199.7H1309.2V190.9H1310.8V190.0H1312.4V193.1H1314.0V195.1H1315.6V192.8H1317.2V200.5H1318.8V199.0H1320.4V215.8H1322.0V194.7H1323.6V197.7H1325.2V206.6H1326.8V202.5H1328.4V201.9H1330.0V219.4H1331.6V226.6H1333.2V255.9H1334.8V244.5"/>
<path d="M258.0,330.5H260.0V376.6H262.0V403.5H264.0V413.2H266.0V413.2H268.0V408.9H270.0V404.2H272.0V396.4H274.0V389.6H276.0V385.7H278.0V382.8H280.0V378.2H282.0V370.8H284.0V351.1H286.0V351.4H288.0V357.6H290.0V377.6H292.0V386.5H294.0V394.9H296.0V404.1H298.0V398.9H300.0V393.8H302.0V391.0H304.0V404.8H306.0V389.1H308.0V385.4H310.0V384.4H312.0V389.4H314.0V398.6H316.0V400.5H318.0V393.7H320.0V389.7H322.0V385.7H324.0V370.9H326.0V363.8H328.0V364.8H330.0V360.2H332.0V354.4H334.0V354.2H336.0V375.8H338.0V399.7H340.0V402.7H342.0V373.0H344.0V345.8H346.0V344.4H348.0V354.5H350.0V353.5H352.0V343.9H354.0V350.6H356.0V364.2H358.0V378.9H360.0V391.0H362.0V394.9H364.0V397.8H366.0V395.8H368.0V391.2H370.0V387.8H372.0V392.5H374.0V397.4H376.0V403.9H378.0V414.4H380.0V413.0H382.0V409.8H384.0V407.9H386.0V404.8H388.0V383.8H390.0V368.6H392.0V375.5H394.0V390.3H396.0V404.9H398.0V411.1H400.0V417.0H402.0V421.3H404.0V424.7H406.0V430.1H408.0V438.0H410.0V446.1H412.0V465.7H414.0V484.7H416.0V500.3H418.0V517.3H420.0V526.0H422.0V523.0H424.0V518.3H426.0V512.2H428.0V505.4H430.0V474.0H432.0V479.0H434.0V483.4H436.0V501.8H438.0V511.0H440.0V518.1H442.0V524.4H444.0V531.1H446.0V540.4H448.0V544.0H450.0V545.0H452.0V549.8H454.0V544.9H456.0V540.5H458.0V533.6H460.0V524.5H462.0V515.8H464.0V478.4H466.0V431.8H468.0V420.4H470.0V431.8H472.0V450.7H474.0V462.9H476.0V460.8H478.0V455.7H480.0V459.1H482.0V464.0H484.0V466.0H486.0V465.9H488.0V465.7H490.0V474.2H492.0V481.1H494.0V489.5H496.0V498.4H498.0V517.1H500.0V528.6H502.0V525.2H504.0V531.1H506.0V538.6H508.0V532.3H510.0V507.6H512.0V490.0H514.0V472.3H516.0V459.0H518.0V446.3H520.0V431.4H522.0V424.4H524.0V431.4H526.0V434.7H528.0V434.5H530.0V429.7H532.0V424.6H534.0V424.1H536.0V420.8H538.0V409.1H540.0V394.2H542.0V377.1H544.0V371.6H546.0V364.7H548.0V358.1H550.0V354.7H552.0V352.2H554.0V356.6H556.0V363.2H558.0V356.4H560.0V339.1H562.0V319.6H564.0V304.5H566.0V304.2H568.0V303.5H570.0V305.3H572.0V303.3H574.0V306.3H576.0V316.7H578.0V328.2H580.0V336.0H582.0V336.4H584.0V336.7H586.0V340.0H588.0V342.9H590.0V344.1H592.0V347.4H594.0V351.0H596.0V353.7H598.0V357.1H600.0V359.1H602.0V359.7H604.0V359.6H606.0V359.6H608.0V359.7H610.0V359.4H612.0V356.5H614.0V355.6H616.0V355.2H618.0V355.2H620.0V355.5H622.0V356.4H624.0V357.5H626.0V358.5H628.0V358.2H630.0V361.0H632.0V360.7H634.0V359.5H636.0V359.7H638.0V359.6H640.0V362.0H642.0V362.6H644.0V362.8H646.0V366.3H648.0V366.6H650.0V366.3H652.0V364.7H654.0V370.5H656.0V376.9H658.0V382.0H660.0V386.9H662.0V391.5H664.0V387.9H666.0V386.8H668.0V384.4H670.0V379.9H672.0V380.7H674.0V381.6H676.0V381.5H678.0V380.6H680.0V381.1H682.0V396.9H684.0V411.4H686.0V411.0H688.0V403.2H690.0V392.8H692.0V382.1H694.0V373.4H696.0V374.2H698.0V387.9H700.0V399.0H702.0V397.9H704.0V398.5H706.0V397.7H708.0V395.1H710.0V395.3H712.0V395.1H714.0V394.9H716.0V396.2H718.0V397.5H720.0V398.2H722.0V407.6H724.0V415.2H726.0V419.5H728.0V425.6H730.0V433.1H732.0V422.4H734.0V413.3H736.0V403.4H738.0V393.1H740.0V389.1H742.0V390.3H744.0V388.0H746.0V386.3H748.0V385.8H750.0V383.9H752.0V381.2H754.0V378.6H756.0V375.6H758.0V373.9H760.0V373.2H762.0V367.2H764.0V363.5H766.0V360.5H768.0V356.3H770.0V362.1H772.0V370.9H774.0V378.6H776.0V381.8H778.0V378.6H780.0V374.0H782.0V370.4H784.0V365.8H786.0V367.1H788.0V371.1H790.0V370.5H792.0V376.9H794.0V380.5H796.0V388.4H798.0V394.8H800.0V399.8H802.0V403.3H804.0V406.9H806.0V412.4H808.0V413.7H810.0V417.1H812.0V417.4H814.0V418.8H816.0V420.0H818.0V418.8H820.0V418.4H822.0V411.9H824.0V409.4H826.0V414.4H828.0V420.8H830.0V429.1H832.0V418.1H834.0V404.6H836.0V386.4H838.0V373.0H840.0V355.2H842.0V355.6H844.0V351.8H846.0V356.7H848.0V370.4H850.0V383.9H852.0V405.5H854.0V427.8H856.0V437.5H858.0V440.8H860.0V444.9H862.0V434.4H864.0V423.6H866.0V426.2H868.0V444.0H870.0V463.7H872.0V440.1H874.0V415.0H876.0V398.3H878.0V388.6H880.0V425.1H882.0V450.3H884.0V434.5H886.0V427.6H888.0V434.4H890.0V439.5H892.0V440.5H894.0V428.5H896.0V418.6H898.0V410.8H900.0V414.9H902.0V446.1H904.0V466.8H906.0V460.9H908.0V431.4H910.0V413.0H912.0V402.7H914.0V425.3H916.0V440.6H918.0V446.5H920.0V446.4H922.0V456.0H924.0V471.5H926.0V482.3H928.0V478.3H930.0V465.7H932.0V443.2H934.0V428.5H936.0V419.8H938.0V422.1H940.0V428.1H942.0V431.4H944.0V454.3H946.0V469.6H948.0V485.1H950.0V462.3H952.0V449.9H954.0V447.9H956.0V445.5H958.0V446.1H960.0V440.8H962.0V430.4H964.0V423.7H966.0V422.3H968.0V432.6H970.0V456.9H972.0V481.3H974.0V482.4H976.0V466.0H978.0V457.4H980.0V461.9H982.0V475.9H984.0V487.1H986.0V483.2H988.0V477.0H990.0V470.8H992.0V469.2H994.0V479.2H996.0V485.7H998.0V481.0H1000.0V480.4H1002.0V468.2H1004.0V463.1H1006.0V459.1H1008.0V462.2H1010.0V462.3H1012.0V459.4H1014.0V452.5H1016.0V445.0H1018.0V446.3H1020.0V456.8H1022.0V472.7H1024.0V482.0H1026.0V479.3H1028.0V466.2H1030.0V458.6H1032.0V459.7H1034.0V469.7H1036.0V480.2H1038.0V484.3H1040.0V473.7H1042.0V459.8H1044.0V448.6H1046.0V454.8H1048.0V481.6H1050.0V508.5H1052.0V505.0H1054.0V494.2H1056.0V483.0H1058.0V488.3H1060.0V504.6H1062.0V502.5H1064.0V499.4H1066.0V492.0H1068.0V482.5H1070.0V478.1H1072.0V469.5H1074.0V455.4H1076.0V457.7H1078.0V456.8H1080.0V448.4H1082.0V448.9H1084.0V460.9H1086.0V475.4H1088.0V474.1H1090.0V460.7H1092.0V452.4H1094.0V460.9H1096.0V473.7H1098.0V475.6H1100.0V480.6H1102.0V469.7H1104.0V459.0H1106.0V456.6H1108.0V464.7H1110.0V472.0H1112.0V486.0H1114.0V492.4H1116.0V487.4H1118.0V476.1H1120.0V467.2H1122.0V461.0H1124.0V455.1H1126.0V445.3H1128.0V430.2H1130.0V408.4H1132.0V407.9H1134.0V411.1H1136.0V427.5H1138.0V447.1H1140.0V463.3H1142.0V449.7H1144.0V436.2H1146.0V437.2H1148.0V450.3H1150.0V454.4H1152.0V453.2H1154.0V438.6H1156.0V425.9H1158.0V418.1H1160.0V425.3H1162.0V435.9H1164.0V439.8H1166.0V434.8H1168.0V429.3H1170.0V428.7H1172.0V438.1H1174.0V447.5H1176.0V454.6H1178.0V459.5H1180.0V461.7H1182.0V457.1H1184.0V459.3H1186.0V470.9H1188.0V478.8H1190.0V480.8H1192.0V458.1H1194.0V445.7H1196.0V438.2H1198.0V446.1H1200.0V447.7H1202.0V449.0H1204.0V450.8H1206.0V443.3H1208.0V439.4H1210.0V440.1H1212.0V438.9H1214.0V446.5H1216.0V439.5H1218.0V425.6H1220.0V411.6H1222.0V406.0H1224.0V413.2H1226.0V428.3H1228.0V440.5H1230.0V441.8H1232.0V430.4H1234.0V414.3H1236.0V401.8H1238.0V396.2H1240.0V394.1H1242.0V410.6H1244.0V423.2H1246.0V420.7H1248.0V419.7H1250.0V426.0H1252.0V436.5H1254.0V446.1H1256.0V445.8H1258.0V436.9H1260.0V421.3H1262.0V403.0H1264.0V394.0H1266.0V394.3H1268.0V402.0H1270.0V407.5H1272.0V415.2H1274.0V414.2H1276.0V408.5H1278.0V405.2H1280.0V413.5H1282.0V424.6H1284.0V436.9H1286.0V432.9H1288.0V399.8H1290.0V377.1H1292.0V391.4H1294.0V415.0H1296.0V421.9H1298.0V409.3H1300.0V389.7H1302.0V365.8H1304.0V358.3H1306.0V384.7H1308.0V413.3H1310.0V410.9H1312.0V394.1H1314.0V375.7H1316.0V373.3H1318.0V396.9H1320.0V424.4H1322.0V424.1H1324.0V416.7H1326.0V404.1H1328.0V389.4H1330.0V405.8H1332.0V430.1H1334.0V458.1H1336.0V476.9"/>
<path d="M255.0,381.7H257.0V441.9H259.0V451.8H261.0V449.9H263.0V447.4H265.0V444.6H267.0V431.8H269.0V418.1H271.0V411.3H273.0V404.5H275.0V415.1H277.0V423.7H279.0V425.8H281.0V418.6H283.0V414.0H285.0V407.5H287.0V405.5H289.0V406.5H291.0V414.2H293.0V434.0H295.0V433.4H297.0V407.2H299.0V393.3H301.0V389.5H303.0V449.9H305.0V410.3H307.0V387.8H309.0V385.8H311.0V395.7H313.0V419.2H315.0V430.9H317.0V430.3H319.0V421.2H321.0V411.3H323.0V413.0H325.0V432.9H327.0V424.6H329.0V415.3H331.0V406.9H333.0V415.4H335.0V425.6H337.0V435.8H339.0V442.1H341.0V447.5H343.0V448.7H345.0V449.2H347.0V449.0H349.0V451.4H351.0V452.2H353.0V450.9H355.0V448.6H357.0V446.3H359.0V441.0H361.0V433.0H363.0V422.1H365.0V410.7H367.0V394.6H369.0V389.5H371.0V398.2H373.0V410.6H375.0V421.9H377.0V431.9H379.0V444.1H381.0V455.0H383.0V463.9H385.0V472.0H387.0V468.0H389.0V464.3H391.0V462.0H393.0V460.0H395.0V456.1H397.0V450.6H399.0V442.3H401.0V439.0H403.0V444.7H405.0V444.5H407.0V440.4H409.0V443.7H411.0V460.9H413.0V482.1H415.0V496.8H417.0V504.1H419.0V513.1H421.0V517.5H423.0V514.9H425.0V506.6H427.0V500.4H429.0V504.5H431.0V519.7H433.0V542.7H435.0V548.3H437.0V548.0H439.0V544.4H441.0V543.0H443.0V548.9H445.0V556.0H447.0V557.7H449.0V553.7H451.0V551.5H453.0V549.9H455.0V550.4H457.0V546.6H459.0V541.9H461.0V531.2H463.0V516.7H465.0V507.2H467.0V498.2H469.0V491.1H471.0V485.6H473.0V476.8H475.0V475.3H477.0V479.2H479.0V478.9H481.0V479.8H483.0V480.4H485.0V479.6H487.0V478.0H489.0V477.5H491.0V476.8H493.0V482.7H495.0V487.0H497.0V495.5H499.0V505.8H501.0V517.2H503.0V527.0H505.0V532.6H507.0V537.6H509.0V531.5H511.0V521.7H513.0V508.3H515.0V493.1H517.0V479.5H519.0V472.4H521.0V469.7H523.0V471.0H525.0V476.2H527.0V468.8H529.0V465.3H531.0V471.1H533.0V477.2H535.0V487.7H537.0V487.3H539.0V476.9H541.0V467.6H543.0V456.9H545.0V456.6H547.0V456.6H549.0V458.0H551.0V459.4H553.0V458.8H555.0V454.0H557.0V444.3H559.0V432.1H561.0V422.2H563.0V413.5H565.0V405.5H567.0V399.5H569.0V394.9H571.0V388.6H573.0V380.9H575.0V375.0H577.0V364.7H579.0V357.4H581.0V349.0H583.0V340.8H585.0V336.2H587.0V331.7H589.0V324.8H591.0V317.0H593.0V305.9H595.0V298.7H597.0V298.2H599.0V304.6H601.0V310.9H603.0V316.7H605.0V319.4H607.0V321.3H609.0V320.9H611.0V320.4H613.0V322.0H615.0V331.8H617.0V334.1H619.0V335.7H621.0V340.5H623.0V344.0H625.0V348.5H627.0V353.0H629.0V353.4H631.0V353.6H633.0V352.1H635.0V352.2H637.0V353.3H639.0V358.0H641.0V362.3H643.0V377.1H645.0V385.0H647.0V390.1H649.0V396.6H651.0V398.4H653.0V394.9H655.0V391.9H657.0V388.3H659.0V386.0H661.0V386.4H663.0V391.9H665.0V395.9H667.0V402.0H669.0V407.7H671.0V414.6H673.0V424.1H675.0V433.0H677.0V430.5H679.0V428.1H681.0V426.9H683.0V425.4H685.0V423.0H687.0V419.9H689.0V418.9H691.0V419.0H693.0V421.7H695.0V420.4H697.0V420.2H699.0V420.8H701.0V418.8H703.0V417.8H705.0V417.7H707.0V414.6H709.0V414.1H711.0V412.7H713.0V414.2H715.0V414.4H717.0V416.3H719.0V416.5H721.0V423.1H723.0V430.9H725.0V438.1H727.0V444.7H729.0V454.4H731.0V462.7H733.0V473.7H735.0V481.1H737.0V490.4H739.0V499.0H741.0V503.3H743.0V506.3H745.0V508.2H747.0V501.0H749.0V489.8H751.0V486.6H753.0V489.5H755.0V490.9H757.0V481.2H759.0V471.6H761.0V471.0H763.0V479.0H765.0V487.7H767.0V497.0H769.0V507.1H771.0V503.9H773.0V491.6H775.0V477.7H777.0V466.0H779.0V455.1H781.0V449.5H783.0V439.3H785.0V431.2H787.0V429.7H789.0V426.8H791.0V427.5H793.0V434.0H795.0V436.8H797.0V441.9H799.0V445.0H801.0V446.7H803.0V439.9H805.0V434.7H807.0V439.5H809.0V443.1H811.0V446.2H813.0V451.4H815.0V456.9H817.0V447.4H819.0V435.2H821.0V429.7H823.0V437.8H825.0V443.3H827.0V450.3H829.0V459.5H831.0V469.8H833.0V481.9H835.0V490.4H837.0V482.1H839.0V473.3H841.0V473.7H843.0V479.9H845.0V485.0H847.0V497.2H849.0V511.8H851.0V524.0H853.0V539.1H855.0V513.6H857.0V488.3H859.0V474.5H861.0V466.3H863.0V465.6H865.0V470.7H867.0V474.0H869.0V468.7H871.0V467.2H873.0V473.6H875.0V476.4H877.0V474.4H879.0V463.2H881.0V456.5H883.0V460.2H885.0V473.8H887.0V490.2H889.0V499.1H891.0V493.3H893.0V479.4H895.0V476.1H897.0V481.6H899.0V496.5H901.0V504.0H903.0V501.7H905.0V486.2H907.0V473.8H909.0V473.9H911.0V486.6H913.0V501.3H915.0V507.8H917.0V499.3H919.0V494.9H921.0V496.5H923.0V500.9H925.0V500.8H927.0V499.9H929.0V494.4H931.0V492.1H933.0V484.5H935.0V483.2H937.0V482.9H939.0V490.4H941.0V493.0H943.0V498.0H945.0V490.4H947.0V484.6H949.0V480.9H951.0V486.8H953.0V492.4H955.0V492.7H957.0V481.6H959.0V458.3H961.0V460.1H963.0V471.2H965.0V490.5H967.0V496.2H969.0V497.0H971.0V483.5H973.0V474.5H975.0V472.5H977.0V482.7H979.0V496.8H981.0V502.1H983.0V494.1H985.0V486.1H987.0V482.5H989.0V484.5H991.0V499.3H993.0V510.3H995.0V513.7H997.0V506.4H999.0V500.5H1001.0V495.0H1003.0V500.2H1005.0V506.4H1007.0V507.2H1009.0V500.0H1011.0V488.1H1013.0V480.9H1015.0V483.9H1017.0V490.0H1019.0V495.4H1021.0V488.8H1023.0V473.2H1025.0V465.3H1027.0V477.8H1029.0V490.9H1031.0V488.8H1033.0V475.9H1035.0V464.5H1037.0V462.7H1039.0V475.0H1041.0V483.3H1043.0V483.8H1045.0V479.7H1047.0V475.4H1049.0V474.8H1051.0V486.0H1053.0V498.6H1055.0V503.9H1057.0V506.1H1059.0V504.0H1061.0V504.0H1063.0V498.6H1065.0V503.7H1067.0V504.4H1069.0V507.5H1071.0V508.3H1073.0V504.0H1075.0V495.3H1077.0V492.7H1079.0V499.1H1081.0V513.8H1083.0V531.9H1085.0V546.1H1087.0V533.2H1089.0V526.0H1091.0V515.5H1093.0V511.0H1095.0V503.9H1097.0V493.8H1099.0V481.5H1101.0V475.7H1103.0V475.3H1105.0V481.2H1107.0V494.0H1109.0V498.6H1111.0V494.2H1113.0V487.1H1115.0V488.4H1117.0V509.3H1119.0V533.9H1121.0V552.4H1123.0V561.1H1125.0V537.7H1127.0V516.4H1129.0V497.8H1131.0V485.3H1133.0V478.7H1135.0V471.5H1137.0V459.0H1139.0V458.1H1141.0V468.3H1143.0V486.7H1145.0V514.3H1147.0V513.6H1149.0V504.0H1151.0V491.4H1153.0V474.8H1155.0V459.1H1157.0V453.4H1159.0V454.2H1161.0V468.1H1163.0V491.7H1165.0V502.2H1167.0V490.9H1169.0V478.7H1171.0V473.1H1173.0V473.8H1175.0V481.6H1177.0V501.1H1179.0V521.1H1181.0V513.2H1183.0V498.0H1185.0V492.9H1187.0V500.5H1189.0V499.4H1191.0V489.5H1193.0V471.1H1195.0V460.2H1197.0V462.3H1199.0V470.6H1201.0V481.5H1203.0V487.0H1205.0V485.4H1207.0V477.8H1209.0V473.8H1211.0V473.7H1213.0V475.7H1215.0V480.7H1217.0V477.6H1219.0V466.5H1221.0V457.8H1223.0V456.4H1225.0V457.5H1227.0V461.8H1229.0V468.4H1231.0V467.3H1233.0V462.7H1235.0V459.9H1237.0V461.2H1239.0V464.0H1241.0V474.4H1243.0V481.0H1245.0V479.1H1247.0V478.5H1249.0V478.5H1251.0V475.3H1253.0V473.8H1255.0V471.9H1257.0V474.3H1259.0V473.5H1261.0V466.4H1263.0V456.7H1265.0V452.0H1267.0V449.5H1269.0V447.5H1271.0V454.9H1273.0V459.3H1275.0V446.2H1277.0V437.5H1279.0V436.5H1281.0V443.2H1283.0V452.4H1285.0V451.3H1287.0V441.9H1289.0V430.7H1291.0V427.9H1293.0V442.1H1295.0V451.2H1297.0V456.6H1299.0V452.5H1301.0V443.1H1303.0V435.1H1305.0V437.1H1307.0V440.3H1309.0V443.2H1311.0V433.6H1313.0V426.3H1315.0V424.1H1317.0V437.8H1319.0V444.4H1321.0V442.9H1323.0V429.9H1325.0V416.8H1327.0V411.3H1329.0V419.5H1331.0V429.7H1333.0V433.9H1335.0V423.3"/>
<path d="M262.0,412.5H264.0V415.8H266.0V419.2H268.0V419.6H270.0V424.4H272.0V419.7H274.0V418.2H276.0V415.4H278.0V407.2H280.0V399.5H282.0V394.7H284.0V397.1H286.0V405.3H288.0V415.6H290.0V421.9H292.0V430.0H294.0V423.0H296.0V417.1H298.0V412.8H300.0V410.1H302.0V414.5H304.0V419.4H306.0V424.1H308.0V426.8H310.0V429.4H312.0V423.7H314.0V421.3H316.0V414.6H318.0V407.4H320.0V402.1H322.0V399.2H324.0V395.1H326.0V396.6H328.0V405.1H330.0V411.9H332.0V416.2H334.0V422.0H336.0V427.6H338.0V430.7H340.0V433.3H342.0V435.7H344.0V436.3H346.0V438.1H348.0V439.2H350.0V441.2H352.0V441.8H354.0V438.5H356.0V437.8H358.0V438.5H360.0V436.1H362.0V438.2H364.0V442.6H366.0V443.7H368.0V445.2H370.0V447.2H372.0V451.6H374.0V456.0H376.0V460.2H378.0V463.9H380.0V468.7H382.0V473.2H384.0V482.4H386.0V489.2H388.0V494.6H390.0V494.5H392.0V494.4H394.0V490.9H396.0V484.4H398.0V473.4H400.0V475.5H402.0V477.5H404.0V482.1H406.0V490.5H408.0V498.4H410.0V503.6H412.0V511.4H414.0V520.7H416.0V530.9H418.0V538.2H420.0V544.5H422.0V531.4H424.0V520.2H426.0V513.8H428.0V508.0H430.0V499.8H432.0V516.8H434.0V533.9H436.0V541.9H438.0V547.0H440.0V541.5H442.0V528.1H444.0V503.1H446.0V478.7H448.0V469.9H450.0V481.3H452.0V501.0H454.0V500.2H456.0V502.2H458.0V515.3H460.0V524.5H462.0V527.1H464.0V514.1H466.0V495.0H468.0V484.0H470.0V478.1H472.0V474.9H474.0V472.7H476.0V476.5H478.0V482.6H480.0V493.5H482.0V492.1H484.0V480.3H486.0V474.0H488.0V470.4H490.0V472.9H492.0V479.0H494.0V484.4H496.0V490.0H498.0V496.7H500.0V500.6H502.0V499.5H504.0V493.4H506.0V483.2H508.0V475.9H510.0V471.9H512.0V462.6H514.0V456.1H516.0V450.1H518.0V447.2H520.0V443.2H522.0V438.4H524.0V434.4H526.0V429.4H528.0V425.4H530.0V423.7H532.0V421.4H534.0V414.1H536.0V405.4H538.0V395.3H540.0V386.6H542.0V388.8H544.0V399.4H546.0V407.1H548.0V416.9H550.0V415.3H552.0V401.7H554.0V391.1H556.0V382.1H558.0V379.9H560.0V379.0H562.0V379.0H564.0V380.8H566.0V387.0H568.0V395.5H570.0V393.7H572.0V396.9H574.0V399.9H576.0V404.7H578.0V398.5H580.0V382.2H582.0V365.7H584.0V346.7H586.0V335.5H588.0V326.3H590.0V323.1H592.0V349.1H594.0V369.2H596.0V368.5H598.0V366.8H600.0V364.4H602.0V362.3H604.0V360.3H606.0V356.5H608.0V356.7H610.0V356.7H612.0V356.7H614.0V355.2H616.0V350.9H618.0V351.0H620.0V352.6H622.0V359.4H624.0V365.5H626.0V385.7H628.0V396.2H630.0V404.8H632.0V413.3H634.0V418.9H636.0V421.7H638.0V423.3H640.0V417.1H642.0V411.9H644.0V409.5H646.0V410.2H648.0V413.9H650.0V416.1H652.0V416.7H654.0V408.5H656.0V402.8H658.0V396.5H660.0V391.6H662.0V385.9H664.0V378.3H666.0V372.0H668.0V369.7H670.0V364.9H672.0V366.2H674.0V369.9H676.0V371.3H678.0V389.3H680.0V413.8H682.0V410.9H684.0V409.9H686.0V404.4H688.0V398.5H690.0V393.8H692.0V396.4H694.0V397.3H696.0V398.9H698.0V401.3H700.0V405.6H702.0V406.0H704.0V405.0H706.0V403.6H708.0V402.9H710.0V401.7H712.0V402.4H714.0V402.4H716.0V404.0H718.0V405.6H720.0V404.8H722.0V409.7H724.0V414.8H726.0V418.7H728.0V423.1H730.0V425.4H732.0V419.1H734.0V411.4H736.0V405.3H738.0V398.2H740.0V397.2H742.0V394.9H744.0V392.8H746.0V393.2H748.0V389.9H750.0V389.6H752.0V390.1H754.0V389.4H756.0V385.8H758.0V384.9H760.0V381.1H762.0V379.8H764.0V376.0H766.0V369.8H768.0V364.1H770.0V371.1H772.0V379.3H774.0V386.6H776.0V388.9H778.0V385.0H780.0V380.9H782.0V374.5H784.0V371.0H786.0V370.2H788.0V373.2H790.0V376.1H792.0V381.9H794.0V385.7H796.0V394.1H798.0V399.4H800.0V404.1H802.0V408.6H804.0V414.5H806.0V418.7H808.0V422.2H810.0V426.7H812.0V427.8H814.0V426.2H816.0V425.1H818.0V425.4H820.0V428.5H822.0V432.5H824.0V433.8H826.0V438.1H828.0V440.2H830.0V441.9H832.0V427.7H834.0V415.9H836.0V402.3H838.0V388.5H840.0V372.0H842.0V365.9H844.0V359.4H846.0V367.0H848.0V377.7H850.0V388.8H852.0V410.0H854.0V431.7H856.0V447.6H858.0V458.8H860.0V474.0H862.0V482.6H864.0V493.0H866.0V502.1H868.0V516.9H870.0V527.8H872.0V517.1H874.0V510.5H876.0V507.2H878.0V508.8H880.0V509.4H882.0V512.3H884.0V508.1H886.0V500.9H888.0V496.1H890.0V494.0H892.0V501.9H894.0V507.3H896.0V515.4H898.0V507.8H900.0V496.7H902.0V493.5H904.0V504.0H906.0V509.2H908.0V508.7H910.0V500.1H912.0V512.3H914.0V526.7H916.0V544.5H918.0V563.7H920.0V580.0H922.0V560.8H924.0V544.6H926.0V530.3H928.0V530.7H930.0V541.5H932.0V548.1H934.0V557.5H936.0V561.2H938.0V546.9H940.0V540.5H942.0V536.1H944.0V540.2H946.0V544.5H948.0V546.9H950.0V531.9H952.0V523.0H954.0V530.0H956.0V540.9H958.0V545.9H960.0V543.0H962.0V527.5H964.0V508.6H966.0V502.9H968.0V509.9H970.0V516.2H972.0V526.7H974.0V532.4H976.0V533.0H978.0V532.3H980.0V535.9H982.0V540.0H984.0V547.6H986.0V553.3H988.0V535.6H990.0V508.6H992.0V501.5H994.0V507.1H996.0V517.7H998.0V517.9H1000.0V507.0H1002.0V499.1H1004.0V496.7H1006.0V497.6H1008.0V506.3H1010.0V514.5H1012.0V516.8H1014.0V510.6H1016.0V497.1H1018.0V478.6H1020.0V474.7H1022.0V497.8H1024.0V522.3H1026.0V560.1H1028.0V566.5H1030.0V535.3H1032.0V511.1H1034.0V497.5H1036.0V494.4H1038.0V494.7H1040.0V480.2H1042.0V478.8H1044.0V478.8H1046.0V497.7H1048.0V520.9H1050.0V530.7H1052.0V526.7H1054.0V522.5H1056.0V513.9H1058.0V521.2H1060.0V528.3H1062.0V543.4H1064.0V552.2H1066.0V547.5H1068.0V546.2H1070.0V548.4H1072.0V539.5H1074.0V530.3H1076.0V522.0H1078.0V512.8H1080.0V496.5H1082.0V505.2H1084.0V518.9H1086.0V535.6H1088.0V555.0H1090.0V540.6H1092.0V523.3H1094.0V514.1H1096.0V509.7H1098.0V520.0H1100.0V516.4H1102.0V505.9H1104.0V492.7H1106.0V479.9H1108.0V473.4H1110.0V476.8H1112.0V491.7H1114.0V505.6H1116.0V519.9H1118.0V528.2H1120.0V528.2H1122.0V541.4H1124.0V546.4H1126.0V546.5H1128.0V532.7H1130.0V513.6H1132.0V506.6H1134.0V506.2H1136.0V507.8H1138.0V523.4H1140.0V534.8H1142.0V553.9H1144.0V563.7H1146.0V551.5H1148.0V520.0H1150.0V495.7H1152.0V499.0H1154.0V495.5H1156.0V489.5H1158.0V475.7H1160.0V528.1H1162.0V519.5H1164.0V520.3H1166.0V525.7H1168.0V520.8H1170.0V503.9H1172.0V508.7H1174.0V515.6H1176.0V512.9H1178.0V504.2H1180.0V497.3H1182.0V503.0H1184.0V499.7H1186.0V487.7H1188.0V479.7H1190.0V475.8H1192.0V503.5H1194.0V534.9H1196.0V541.6H1198.0V523.2H1200.0V494.6H1202.0V477.6H1204.0V464.2H1206.0V457.3H1208.0V459.0H1210.0V472.4H1212.0V476.9H1214.0V466.7H1216.0V452.6H1218.0V454.9H1220.0V467.6H1222.0V484.4H1224.0V487.2H1226.0V478.4H1228.0V467.1H1230.0V469.8H1232.0V483.6H1234.0V503.4H1236.0V507.9H1238.0V500.7H1240.0V493.6H1242.0V502.3H1244.0V518.8H1246.0V528.9H1248.0V517.4H1250.0V499.3H1252.0V491.0H1254.0V481.5H1256.0V472.4H1258.0V472.4H1260.0V471.9H1262.0V478.5H1264.0V475.9H1266.0V469.1H1268.0V466.6H1270.0V469.4H1272.0V477.3H1274.0V482.1H1276.0V482.1H1278.0V469.0H1280.0V453.9H1282.0V457.0H1284.0V469.2H1286.0V482.2H1288.0V486.3H1290.0V480.2H1292.0V465.7H1294.0V456.6H1296.0V455.7H1298.0V460.3H1300.0V462.0H1302.0V458.7H1304.0V444.4H1306.0V440.1H1308.0V444.6H1310.0V449.1H1312.0V457.2H1314.0V451.8H1316.0V440.1H1318.0V432.3H1320.0V431.4H1322.0V440.1H1324.0V453.4H1326.0V457.2H1328.0V446.7H1330.0V439.4H1332.0V440.3H1334.0V455.2H1336.0V472.5"/>
<path d="M240.0,612.2H242.2V619.7H244.4V623.2H246.6V618.3H248.8V619.1H251.0V620.9H253.2V623.9H255.4V623.3H257.6V626.8H259.8V620.0H262.0V623.1H264.2V619.6H266.4V610.1H268.6V611.7H270.8V606.3H273.0V606.3H275.2V604.4H277.4V591.1H279.6V578.4H281.8V585.7H284.0V628.0H286.2V695.6H288.4V740.4H290.6V765.7H292.8V781.1H295.0V742.6H297.2V713.0H299.4V696.4H301.6V689.7H303.8V679.1H306.0V668.6H308.2V663.0H310.4V660.7H312.6V672.2H314.8V680.4H317.0V687.8H319.2V692.0H321.4V697.6H323.6V705.2H325.8V702.2H328.0V703.9H330.2V714.5H332.4V720.2H334.6V727.1H336.8V734.7H339.0V741.3H341.2V748.2H343.4V753.0H345.6V761.6H347.8V768.5H350.0V768.1H352.2V766.7H354.4V758.9H356.6V757.1H358.8V746.6H361.0V742.4H363.2V737.4H365.4V732.8H367.6V728.4H369.8V724.3H372.0V720.0H374.2V716.6H376.4V715.8H378.6V711.7H380.8V708.6H383.0V702.7H385.2V700.5H387.4V695.7H389.6V684.8H391.8V681.8H394.0V675.0H396.2V668.5H398.4V657.1H400.6V649.4H402.8V647.0H405.0V647.4H407.2V638.6H409.4V633.9H411.6V625.6H413.8V618.8H416.0V613.9H418.2V608.3H420.4V601.7H422.6V602.4H424.8V598.0H427.0V593.5H429.2V588.3H431.4V587.2H433.6V585.5H435.8V580.0H438.0V577.1H440.2V576.7H442.4V579.8H444.6V586.4H446.8V586.2H449.0V592.4H451.2V592.9H453.4V600.0H455.6V599.8H457.8V601.6H460.0V606.7H462.2V612.7H464.4V615.4H466.6V618.5H468.8V621.1H471.0V622.6H473.2V640.7H475.4V649.2H477.6V667.8H479.8V685.3H482.0V684.6H484.2V683.8H486.4V696.8H488.6V696.6H490.8V703.5H493.0V706.5H495.2V701.7H497.4V692.1H499.6V698.9H501.8V700.3H504.0V699.2H506.2V699.3H508.4V702.2H510.6V698.1H512.8V686.8H515.0V688.6H517.2V694.5H519.4V693.7H521.6V693.5H523.8V683.8H526.0V682.5H528.2V674.2H530.4V675.1H532.6V665.6H534.8V664.4H537.0V658.9H539.2V651.1H541.4V646.9H543.6V653.4H545.8V653.4H548.0V655.6H550.2V652.6H552.4V651.3H554.6V643.1H556.8V642.7H559.0V643.0H561.2V635.9H563.4V647.9H565.6V653.4H567.8V647.2H570.0V642.4H572.2V645.8H574.4V643.3H576.6V636.7H578.8V638.8H581.0V645.7H583.2V646.0H585.4V652.4H587.6V647.6H589.8V647.5H592.0V638.2H594.2V646.9H596.4V655.5H598.6V667.1H600.8V668.4H603.0V679.9H605.2V683.9H607.4V678.5H609.6V686.9H611.8V678.7H614.0V687.4H616.2V688.8H618.4V684.7H620.6V693.5H622.8V694.9H625.0V691.1H627.2V702.2H629.4V698.1H631.6V701.0H633.8V698.8H636.0V693.2H638.2V680.9H640.4V687.4H642.6V687.0H644.8V688.8H647.0V687.6H649.2V683.8H651.4V686.6H653.6V680.4H655.8V679.5H658.0V680.7H660.2V682.6H662.4V674.3H664.6V664.1H666.8V663.9H669.0V662.1H671.2V651.8H673.4V657.1H675.6V657.5H677.8V659.5H680.0V659.6H682.2V667.3H684.4V669.2H686.6V671.2H688.8V671.1H691.0V662.3H693.2V665.5H695.4V657.3H697.6V659.1H699.8V660.7H702.0V653.3H704.2V664.8H706.4V671.0H708.6V668.8H710.8V661.6H713.0V659.5H715.2V659.7H717.4V659.1H719.6V651.4H721.8V654.5H724.0V655.0H726.2V651.8H728.4V656.6H730.6V655.6H732.8V652.7H735.0V645.7H737.2V645.3H739.4V646.5H741.6V653.9H743.8V652.3H746.0V648.4H748.2V640.7H750.4V638.5H752.6V636.4H754.8V637.7H757.0V627.7H759.2V623.2H761.4V616.3H763.6V623.2H765.8V623.3H768.0V619.5H770.2V613.1H772.4V608.1H774.6V601.3H776.8V597.9H779.0V595.6H781.2V594.6H783.4V593.3H785.6V602.8H787.8V604.6H790.0V602.3H792.2V607.1H794.4V611.3H796.6V601.5H798.8V604.5H801.0V595.4H803.2V596.2H805.4V601.1H807.6V601.6H809.8V612.6H812.0V604.5H814.2V609.8H816.4V622.1H818.6V616.2H820.8V605.8H823.0V601.1H825.2V597.3H827.4V600.0H829.6V605.0H831.8V603.0H834.0V605.6H836.2V605.4H838.4V607.4H840.6V608.7H842.8V611.8H845.0V609.0H847.2V614.5H849.4V608.7H851.6V598.2H853.8V597.4H856.0V597.4H858.2V607.5H860.4V615.6H862.6V622.3H864.8V622.7H867.0V622.8H869.2V620.8H871.4V617.8H873.6V612.5H875.8V617.6H878.0V614.4H880.2V614.9H882.4V622.3H884.6V623.5H886.8V636.9H889.0V628.1H891.2V628.5H893.4V618.8H895.6V619.2H897.8V622.1H900.0V611.2H902.2V618.9H904.4V610.0H906.6V614.6H908.8V614.8H911.0V622.3H913.2V624.3H915.4V627.4H917.6V632.2H919.8V626.8H922.0V625.9H924.2V627.5H926.4V625.5H928.6V621.8H930.8V621.0H933.0V621.6H935.2V628.6H937.4V622.9H939.6V628.4H941.8V617.2H944.0V613.2H946.2V613.4H948.4V610.9H950.6V612.4H952.8V614.1H955.0V615.7H957.2V626.7H959.4V618.6H961.6V613.2H963.8V623.0H966.0V619.8H968.2V620.2H970.4V621.6H972.6V611.4H974.8V612.3H977.0V603.2H979.2V611.3H981.4V620.1H983.6V614.7H985.8V621.7H988.0V617.7H990.2V611.4H992.4V606.6H994.6V605.3H996.8V606.3H999.0V613.3H1001.2V609.1H1003.4V600.6H1005.6V589.1H1007.8V601.8H1010.0V608.1H1012.2V609.7H1014.4V614.5H1016.6V620.6H1018.8V624.0H1021.0V621.1H1023.2V625.9H1025.4V612.6H1027.6V610.6H1029.8V611.5H1032.0V617.6H1034.2V623.8H1036.4V626.6H1038.6V624.0H1040.8V619.2H1043.0V620.4H1045.2V617.4H1047.4V620.6H1049.6V621.1H1051.8V620.7H1054.0V625.3H1056.2V619.6H1058.4V624.2H1060.6V627.0H1062.8V625.3H1065.0V626.1H1067.2V623.2H1069.4V617.4H1071.6V626.8H1073.8V625.3H1076.0V625.9H1078.2V634.1H1080.4V627.1H1082.6V626.8H1084.8V625.2H1087.0V620.2H1089.2V624.5H1091.4V622.9H1093.6V625.5H1095.8V627.7H1098.0V636.0H1100.2V635.5H1102.4V629.5H1104.6V631.7H1106.8V633.2H1109.0V628.4H1111.2V627.8H1113.4V624.9H1115.6V630.0H1117.8V620.3H1120.0V628.5H1122.2V617.1H1124.4V613.5H1126.6V611.6H1128.8V615.6H1131.0V616.0H1133.2V613.2H1135.4V611.7H1137.6V614.0H1139.8V611.2H1142.0V615.5H1144.2V625.1H1146.4V614.5H1148.6V612.5H1150.8V613.4H1153.0V617.5H1155.2V621.0H1157.4V622.3H1159.6V622.4H1161.8V624.7H1164.0V621.1H1166.2V618.2H1168.4V610.2H1170.6V608.5H1172.8V607.2H1175.0V608.4H1177.2V630.0H1179.4V625.9H1181.6V625.6H1183.8V625.0H1186.0V625.0H1188.2V618.4H1190.4V628.5H1192.6V626.1H1194.8V618.3H1197.0V612.4H1199.2V608.7H1201.4V623.6H1203.6V622.3H1205.8V608.0H1208.0V613.7H1210.2V611.2H1212.4V609.3H1214.6V601.4H1216.8V608.8H1219.0V610.0H1221.2V620.0H1223.4V615.1H1225.6V626.2H1227.8V621.1H1230.0V626.8H1232.2V627.2H1234.4V629.7H1236.6V628.6H1238.8V626.9H1241.0V617.5H1243.2V620.3H1245.4V621.6H1247.6V613.1H1249.8V623.4H1252.0V619.8H1254.2V610.9H1256.4V620.2H1258.6V619.3H1260.8V617.8H1263.0V615.8H1265.2V606.0H1267.4V608.8H1269.6V612.4H1271.8V614.8H1274.0V612.2H1276.2V607.4H1278.4V621.1H1280.6V613.3H1282.8V613.2H1285.0V611.5H1287.2V604.7H1289.4V622.7H1291.6V624.4H1293.8V629.1H1296.0V625.7H1298.2V622.4H1300.4V627.8H1302.6V632.2H1304.8V634.6H1307.0V634.9H1309.2V634.3H1311.4V639.7H1313.6V633.4H1315.8V637.0H1318.0V638.4H1320.2V623.3H1322.4V640.6H1324.6V652.8H1326.8V635.7H1329.0V635.6H1331.2V635.1H1333.4V635.3"/>
<path d="M240.0,647.1H242.2V648.3H244.4V646.9H246.6V648.3H248.8V646.5H251.0V645.0H253.2V649.9H255.4V647.4H257.6V640.3H259.8V644.9H262.0V640.8H264.2V642.5H266.4V644.8H268.6V645.6H270.8V637.0H273.0V633.9H275.2V627.6H277.4V626.3H279.6V617.1H281.8V604.2H284.0V627.5H286.2V664.3H288.4V707.4H290.6V743.2H292.8V745.2H295.0V738.8H297.2V724.1H299.4V707.4H301.6V696.6H303.8V682.9H306.0V682.0H308.2V675.1H310.4V673.7H312.6V681.7H314.8V686.8H317.0V698.5H319.2V699.1H321.4V706.4H323.6V719.8H325.8V727.3H328.0V731.8H330.2V730.1H332.4V740.3H334.6V750.4H336.8V752.7H339.0V764.1H341.2V784.4H343.4V793.8H345.6V805.7H347.8V812.8H350.0V816.5H352.2V812.0H354.4V809.7H356.6V799.1H358.8V796.7H361.0V793.3H363.2V787.6H365.4V774.4H367.6V773.8H369.8V768.4H372.0V757.7H374.2V750.6H376.4V745.0H378.6V736.6H380.8V731.1H383.0V720.6H385.2V714.9H387.4V706.9H389.6V704.6H391.8V697.9H394.0V689.8H396.2V682.5H398.4V672.2H400.6V664.3H402.8V658.2H405.0V650.3H407.2V642.8H409.4V634.7H411.6V629.7H413.8V626.1H416.0V618.3H418.2V613.7H420.4V605.4H422.6V603.4H424.8V603.6H427.0V601.5H429.2V599.5H431.4V591.9H433.6V592.5H435.8V590.1H438.0V585.3H440.2V587.8H442.4V587.8H444.6V585.0H446.8V588.7H449.0V595.1H451.2V596.1H453.4V601.8H455.6V604.1H457.8V609.6H460.0V611.1H462.2V612.2H464.4V617.4H466.6V631.7H468.8V641.9H471.0V653.8H473.2V664.2H475.4V679.9H477.6V678.6H479.8V685.1H482.0V688.8H484.2V694.1H486.4V696.8H488.6V709.4H490.8V714.6H493.0V715.5H495.2V705.6H497.4V706.4H499.6V704.7H501.8V695.0H504.0V695.5H506.2V700.2H508.4V692.4H510.6V693.6H512.8V692.8H515.0V691.9H517.2V698.9H519.4V687.6H521.6V691.2H523.8V685.0H526.0V678.8H528.2V672.5H530.4V679.2H532.6V665.2H534.8V671.5H537.0V662.3H539.2V658.6H541.4V661.6H543.6V660.3H545.8V656.8H548.0V658.6H550.2V657.2H552.4V653.8H554.6V645.4H556.8V645.3H559.0V656.0H561.2V655.2H563.4V649.7H565.6V646.6H567.8V659.6H570.0V672.1H572.2V671.2H574.4V675.9H576.6V671.7H578.8V679.2H581.0V679.1H583.2V680.4H585.4V673.8H587.6V676.3H589.8V679.9H592.0V680.9H594.2V686.2H596.4V689.3H598.6V696.5H600.8V700.4H603.0V715.5H605.2V711.7H607.4V708.8H609.6V698.2H611.8V693.3H614.0V691.1H616.2V691.7H618.4V689.9H620.6V693.3H622.8V693.3H625.0V691.3H627.2V696.1H629.4V698.7H631.6V705.0H633.8V709.0H636.0V705.4H638.2V709.9H640.4V706.8H642.6V696.9H644.8V705.4H647.0V703.8H649.2V712.7H651.4V703.4H653.6V699.4H655.8V695.9H658.0V687.1H660.2V688.8H662.4V687.6H664.6V685.1H666.8V689.1H669.0V677.9H671.2V674.6H673.4V672.9H675.6V668.4H677.8V670.7H680.0V674.0H682.2V671.1H684.4V664.4H686.6V664.3H688.8V663.4H691.0V663.8H693.2V670.5H695.4V665.8H697.6V665.7H699.8V664.9H702.0V662.6H704.2V666.5H706.4V667.7H708.6V672.2H710.8V668.3H713.0V667.5H715.2V669.4H717.4V670.0H719.6V661.5H721.8V664.0H724.0V662.7H726.2V657.8H728.4V654.8H730.6V644.1H732.8V645.3H735.0V646.4H737.2V643.6H739.4V649.0H741.6V650.8H743.8V649.9H746.0V649.3H748.2V646.5H750.4V644.8H752.6V637.3H754.8V640.9H757.0V642.2H759.2V651.8H761.4V651.5H763.6V644.6H765.8V640.0H768.0V642.6H770.2V643.0H772.4V641.1H774.6V638.4H776.8V632.3H779.0V634.7H781.2V628.0H783.4V627.8H785.6V638.6H787.8V631.4H790.0V636.3H792.2V638.0H794.4V644.5H796.6V642.5H798.8V645.0H801.0V637.4H803.2V643.0H805.4V642.5H807.6V641.2H809.8V634.3H812.0V635.7H814.2V637.6H816.4V634.6H818.6V633.1H820.8V629.9H823.0V626.2H825.2V625.7H827.4V625.7H829.6V622.6H831.8V628.4H834.0V633.3H836.2V630.8H838.4V619.5H840.6V631.9H842.8V636.7H845.0V639.8H847.2V635.8H849.4V636.5H851.6V631.6H853.8V626.3H856.0V632.3H858.2V643.5H860.4V628.8H862.6V628.6H864.8V631.4H867.0V623.2H869.2V618.4H871.4V619.9H873.6V618.5H875.8V621.6H878.0V622.4H880.2V627.2H882.4V633.4H884.6V624.4H886.8V630.3H889.0V630.8H891.2V631.1H893.4V629.3H895.6V638.3H897.8V639.4H900.0V619.5H902.2V628.8H904.4V637.1H906.6V637.9H908.8V634.7H911.0V636.7H913.2V642.0H915.4V635.1H917.6V639.4H919.8V639.4H922.0V636.6H924.2V628.0H926.4V621.6H928.6V622.0H930.8V626.6H933.0V618.8H935.2V616.4H937.4V620.6H939.6V624.9H941.8V617.9H944.0V618.7H946.2V620.1H948.4V614.6H950.6V615.1H952.8V615.9H955.0V622.7H957.2V622.0H959.4V610.5H961.6V622.8H963.8V634.3H966.0V631.0H968.2V623.4H970.4V631.6H972.6V630.8H974.8V626.2H977.0V629.4H979.2V623.8H981.4V631.9H983.6V637.9H985.8V637.1H988.0V637.3H990.2V641.4H992.4V643.5H994.6V642.9H996.8V638.4H999.0V634.1H1001.2V634.0H1003.4V632.8H1005.6V637.3H1007.8V635.5H1010.0V631.1H1012.2V637.5H1014.4V638.2H1016.6V638.6H1018.8V638.2H1021.0V633.6H1023.2V631.0H1025.4V634.1H1027.6V636.4H1029.8V643.3H1032.0V639.3H1034.2V633.6H1036.4V637.2H1038.6V637.4H1040.8V644.0H1043.0V636.6H1045.2V632.9H1047.4V631.6H1049.6V627.6H1051.8V630.9H1054.0V635.7H1056.2V634.3H1058.4V634.2H1060.6V635.1H1062.8V631.2H1065.0V636.1H1067.2V640.0H1069.4V634.3H1071.6V633.5H1073.8V637.6H1076.0V641.1H1078.2V642.8H1080.4V637.9H1082.6V644.3H1084.8V632.1H1087.0V636.0H1089.2V633.6H1091.4V647.9H1093.6V635.7H1095.8V638.3H1098.0V640.9H1100.2V638.2H1102.4V637.2H1104.6V637.8H1106.8V639.2H1109.0V638.4H1111.2V635.9H1113.4V638.6H1115.6V634.1H1117.8V638.2H1120.0V638.7H1122.2V636.6H1124.4V634.0H1126.6V630.4H1128.8V628.1H1131.0V630.3H1133.2V626.1H1135.4V624.5H1137.6V630.2H1139.8V637.2H1142.0V628.5H1144.2V633.2H1146.4V634.6H1148.6V636.4H1150.8V628.2H1153.0V635.4H1155.2V633.7H1157.4V630.1H1159.6V633.2H1161.8V640.2H1164.0V647.0H1166.2V641.5H1168.4V643.1H1170.6V647.0H1172.8V643.0H1175.0V640.1H1177.2V648.0H1179.4V644.1H1181.6V646.0H1183.8V642.3H1186.0V644.5H1188.2V648.7H1190.4V641.8H1192.6V640.8H1194.8V636.8H1197.0V633.7H1199.2V630.6H1201.4V636.5H1203.6V646.3H1205.8V646.3H1208.0V642.0H1210.2V643.2H1212.4V634.2H1214.6V635.9H1216.8V640.1H1219.0V641.2H1221.2V639.9H1223.4V641.7H1225.6V649.2H1227.8V653.1H1230.0V645.6H1232.2V647.8H1234.4V646.8H1236.6V641.4H1238.8V638.4H1241.0V641.2H1243.2V638.3H1245.4V644.5H1247.6V641.9H1249.8V643.0H1252.0V634.6H1254.2V632.3H1256.4V641.4H1258.6V647.0H1260.8V640.9H1263.0V642.7H1265.2V649.2H1267.4V650.6H1269.6V657.2H1271.8V651.1H1274.0V646.3H1276.2V647.8H1278.4V647.1H1280.6V654.0H1282.8V651.5H1285.0V649.4H1287.2V648.0H1289.4V650.5H1291.6V654.1H1293.8V648.3H1296.0V644.1H1298.2V649.8H1300.4V648.0H1302.6V650.4H1304.8V648.6H1307.0V649.9H1309.2V652.8H1311.4V653.7H1313.6V650.0H1315.8V645.2H1318.0V642.4H1320.2V647.5H1322.4V641.9H1324.6V640.5H1326.8V648.0H1329.0V650.4H1331.2V652.8H1333.4V650.7"/>
<path d="M240.0,684.2H242.2V684.0H244.4V688.2H246.6V687.2H248.8V684.8H251.0V691.6H253.2V684.8H255.4V685.4H257.6V688.9H259.8V682.9H262.0V675.4H264.2V674.8H266.4V678.6H268.6V673.6H270.8V673.7H273.0V667.8H275.2V658.2H277.4V650.1H279.6V632.6H281.8V630.1H284.0V658.9H286.2V703.3H288.4V742.2H290.6V766.9H292.8V760.4H295.0V740.7H297.2V717.2H299.4V708.4H301.6V701.5H303.8V694.1H306.0V695.7H308.2V701.6H310.4V703.1H312.6V709.3H314.8V710.7H317.0V718.2H319.2V724.1H321.4V722.6H323.6V727.7H325.8V733.5H328.0V736.8H330.2V743.1H332.4V746.5H334.6V754.6H336.8V762.3H339.0V772.6H341.2V789.3H343.4V796.4H345.6V798.5H347.8V806.1H350.0V813.3H352.2V817.6H354.4V825.7H356.6V821.2H358.8V814.9H361.0V812.2H363.2V805.9H365.4V802.1H367.6V796.8H369.8V794.8H372.0V788.1H374.2V781.0H376.4V781.9H378.6V773.5H380.8V769.8H383.0V761.3H385.2V758.7H387.4V756.2H389.6V753.0H391.8V743.0H394.0V738.1H396.2V733.8H398.4V728.6H400.6V724.8H402.8V715.0H405.0V710.4H407.2V698.3H409.4V690.6H411.6V682.4H413.8V678.1H416.0V666.4H418.2V660.9H420.4V656.7H422.6V656.6H424.8V648.6H427.0V645.8H429.2V641.3H431.4V639.8H433.6V634.5H435.8V636.7H438.0V631.3H440.2V627.8H442.4V629.9H444.6V631.7H446.8V631.7H449.0V641.6H451.2V645.5H453.4V654.8H455.6V661.8H457.8V665.2H460.0V667.1H462.2V673.3H464.4V680.4H466.6V680.5H468.8V687.8H471.0V693.9H473.2V698.3H475.4V699.0H477.6V712.1H479.8V722.5H482.0V725.2H484.2V720.2H486.4V718.7H488.6V719.5H490.8V726.1H493.0V733.4H495.2V732.9H497.4V741.7H499.6V750.7H501.8V742.8H504.0V740.2H506.2V733.2H508.4V738.1H510.6V737.7H512.8V740.3H515.0V731.9H517.2V719.4H519.4V721.5H521.6V717.6H523.8V708.2H526.0V708.8H528.2V714.2H530.4V723.1H532.6V715.1H534.8V713.7H537.0V706.9H539.2V705.1H541.4V703.9H543.6V696.0H545.8V696.3H548.0V703.5H550.2V701.7H552.4V698.1H554.6V694.1H556.8V690.9H559.0V685.2H561.2V683.8H563.4V683.0H565.6V690.6H567.8V699.2H570.0V698.4H572.2V705.8H574.4V714.4H576.6V707.7H578.8V708.4H581.0V713.1H583.2V713.8H585.4V716.9H587.6V718.5H589.8V728.2H592.0V725.8H594.2V712.8H596.4V704.2H598.6V707.7H600.8V719.8H603.0V722.9H605.2V715.4H607.4V720.9H609.6V721.4H611.8V723.0H614.0V717.8H616.2V722.8H618.4V728.2H620.6V718.7H622.8V731.9H625.0V725.0H627.2V737.3H629.4V748.3H631.6V747.9H633.8V748.5H636.0V750.8H638.2V750.5H640.4V749.3H642.6V746.8H644.8V743.9H647.0V739.9H649.2V740.7H651.4V742.4H653.6V742.2H655.8V738.0H658.0V744.2H660.2V738.8H662.4V742.9H664.6V738.4H666.8V744.1H669.0V743.6H671.2V746.5H673.4V739.9H675.6V739.5H677.8V739.3H680.0V736.3H682.2V732.8H684.4V743.8H686.6V737.7H688.8V740.3H691.0V733.2H693.2V719.7H695.4V723.5H697.6V727.0H699.8V727.3H702.0V722.3H704.2V722.3H706.4V723.7H708.6V721.2H710.8V716.0H713.0V706.7H715.2V702.1H717.4V694.8H719.6V693.2H721.8V699.1H724.0V706.8H726.2V709.0H728.4V712.2H730.6V707.0H732.8V700.6H735.0V693.2H737.2V686.7H739.4V684.3H741.6V677.2H743.8V667.0H746.0V669.7H748.2V671.6H750.4V675.3H752.6V663.1H754.8V670.8H757.0V666.6H759.2V665.4H761.4V662.9H763.6V669.2H765.8V674.1H768.0V680.9H770.2V680.2H772.4V684.1H774.6V686.5H776.8V679.7H779.0V686.0H781.2V683.8H783.4V686.5H785.6V684.5H787.8V689.2H790.0V688.5H792.2V675.9H794.4V672.6H796.6V676.8H798.8V679.2H801.0V685.0H803.2V688.1H805.4V686.4H807.6V690.1H809.8V687.3H812.0V689.0H814.2V678.3H816.4V669.7H818.6V669.7H820.8V679.9H823.0V680.5H825.2V691.2H827.4V693.0H829.6V689.0H831.8V685.3H834.0V687.1H836.2V679.0H838.4V671.0H840.6V684.3H842.8V690.0H845.0V698.1H847.2V703.6H849.4V701.3H851.6V694.9H853.8V688.5H856.0V687.9H858.2V690.0H860.4V699.1H862.6V693.2H864.8V684.5H867.0V690.4H869.2V693.9H871.4V701.4H873.6V703.8H875.8V697.9H878.0V696.9H880.2V702.4H882.4V698.0H884.6V691.6H886.8V702.5H889.0V707.1H891.2V708.1H893.4V684.4H895.6V680.0H897.8V679.6H900.0V681.6H902.2V688.9H904.4V689.6H906.6V699.9H908.8V685.1H911.0V681.6H913.2V683.6H915.4V685.1H917.6V676.6H919.8V680.3H922.0V676.1H924.2V672.4H926.4V672.0H928.6V679.2H930.8V680.0H933.0V688.7H935.2V680.1H937.4V675.6H939.6V669.6H941.8V676.0H944.0V669.8H946.2V677.1H948.4V673.0H950.6V672.0H952.8V668.7H955.0V679.2H957.2V689.6H959.4V677.3H961.6V671.0H963.8V667.0H966.0V675.9H968.2V677.8H970.4V677.6H972.6V673.4H974.8V675.0H977.0V669.0H979.2V670.3H981.4V678.2H983.6V682.3H985.8V686.0H988.0V680.1H990.2V670.6H992.4V661.7H994.6V661.3H996.8V665.0H999.0V664.3H1001.2V663.2H1003.4V667.6H1005.6V674.1H1007.8V680.1H1010.0V679.9H1012.2V683.6H1014.4V682.0H1016.6V685.2H1018.8V671.7H1021.0V665.7H1023.2V677.7H1025.4V677.3H1027.6V674.7H1029.8V673.0H1032.0V672.8H1034.2V674.4H1036.4V661.0H1038.6V643.7H1040.8V653.4H1043.0V662.9H1045.2V669.6H1047.4V669.9H1049.6V671.8H1051.8V667.4H1054.0V664.8H1056.2V664.2H1058.4V670.3H1060.6V670.2H1062.8V665.2H1065.0V661.6H1067.2V660.6H1069.4V668.6H1071.6V667.1H1073.8V675.2H1076.0V679.2H1078.2V688.7H1080.4V683.5H1082.6V677.5H1084.8V681.3H1087.0V672.6H1089.2V660.8H1091.4V660.4H1093.6V665.9H1095.8V671.6H1098.0V675.7H1100.2V674.1H1102.4V677.7H1104.6V682.8H1106.8V681.1H1109.0V676.0H1111.2V673.5H1113.4V671.5H1115.6V667.7H1117.8V658.2H1120.0V654.3H1122.2V647.5H1124.4V657.9H1126.6V664.5H1128.8V667.1H1131.0V658.3H1133.2V653.4H1135.4V659.9H1137.6V659.3H1139.8V660.2H1142.0V655.0H1144.2V644.7H1146.4V652.5H1148.6V656.9H1150.8V657.2H1153.0V661.7H1155.2V666.6H1157.4V658.4H1159.6V651.0H1161.8V643.5H1164.0V642.2H1166.2V650.5H1168.4V643.9H1170.6V649.5H1172.8V647.7H1175.0V646.1H1177.2V648.8H1179.4V649.1H1181.6V653.5H1183.8V643.9H1186.0V645.2H1188.2V642.0H1190.4V647.5H1192.6V651.7H1194.8V651.5H1197.0V646.8H1199.2V650.4H1201.4V654.0H1203.6V657.8H1205.8V653.4H1208.0V652.0H1210.2V656.1H1212.4V655.1H1214.6V650.8H1216.8V646.0H1219.0V645.9H1221.2V649.3H1223.4V655.4H1225.6V660.5H1227.8V653.5H1230.0V648.4H1232.2V652.1H1234.4V648.4H1236.6V655.3H1238.8V653.6H1241.0V644.8H1243.2V649.3H1245.4V644.9H1247.6V651.8H1249.8V643.9H1252.0V649.1H1254.2V644.7H1256.4V642.4H1258.6V650.2H1260.8V648.0H1263.0V658.8H1265.2V664.3H1267.4V656.5H1269.6V658.4H1271.8V654.9H1274.0V653.1H1276.2V653.7H1278.4V658.0H1280.6V666.6H1282.8V663.2H1285.0V662.3H1287.2V659.5H1289.4V663.1H1291.6V658.7H1293.8V660.3H1296.0V663.9H1298.2V667.9H1300.4V666.5H1302.6V660.5H1304.8V652.6H1307.0V660.7H1309.2V660.7H1311.4V672.5H1313.6V678.2H1315.8V674.1H1318.0V676.5H1320.2V669.1H1322.4V668.8H1324.6V667.8H1326.8V677.8H1329.0V678.6H1331.2V684.2H1333.4V673.9"/>
</g>
<!-- arrows -->
<g stroke="#000" stroke-width="3.4" fill="none">
<line x1="356.6" y1="90.2" x2="349.5" y2="120"/>
<line x1="511.8" y1="289" x2="550" y2="293" stroke-width="3.8"/>
<line x1="330.7" y1="531.6" x2="308" y2="549"/>
</g>
<g fill="#111">
<polygon points="338.4,115.7 362.1,120.8 345.4,141.6"/>
<polygon points="548,281.3 544.9,304.2 570.8,295.5"/>
<polygon points="300.3,541.1 316.1,558.9 289.1,566.1"/>
</g>
<!-- texts -->
<text x="5" y="155.5" textLength="184.5" lengthAdjust="spacing">1.25<tspan class="mu">μ</tspan>V/div</text>
<text x="5.2" y="445.2" textLength="186.8" lengthAdjust="spacing">5.00<tspan class="mu">μ</tspan>V/div</text>
<text x="5.2" y="655.1" textLength="186.8" lengthAdjust="spacing">5.00<tspan class="mu">μ</tspan>V/div</text>
<text x="294.2" y="72" textLength="213.8" lengthAdjust="spacing">absent N 40</text>
<text x="963.4" y="88.8" xml:space="preserve" textLength="426.4" lengthAdjust="spacing">NEP  radial nerve C3-Fz</text>
<text x="964" y="336.7" textLength="466.7" lengthAdjust="spacing">PREP radial nerve Cz-Au1</text>
<text x="965" y="743.6" textLength="446.1" lengthAdjust="spacing">SEP median nerve C3-Fz</text>
<text x="440.4" y="291" textLength="52.7" lengthAdjust="spacing">N2</text>
<text x="387.7" y="334.7" textLength="158.7" lengthAdjust="spacing">162.4 ms</text>
<text x="329.6" y="573.4">N20</text>
<text x="295.7" y="616.9" textLength="136.8" lengthAdjust="spacing">21.5 ms</text>
<text x="235.7" y="923" text-anchor="middle">0</text>
<text x="455.7" y="923" text-anchor="middle">100</text>
<text x="675.9" y="923" text-anchor="middle">200</text>
<text x="896.2" y="923" text-anchor="middle">300</text>
<text x="1117.1" y="923" text-anchor="middle">400</text>
<text x="1306" y="923">500 ms</text>
<!-- remove base serif of 1 -->
<rect x="7.30" y="152.10" width="7.70" height="4" fill="#fff"/>
<rect x="19.00" y="152.10" width="7.50" height="4" fill="#fff"/>
<rect x="1410.75" y="333.30" width="7.70" height="4" fill="#fff"/>
<rect x="1422.45" y="333.30" width="7.50" height="4" fill="#fff"/>
<rect x="390.00" y="331.30" width="7.70" height="4" fill="#fff"/>
<rect x="401.70" y="331.30" width="7.50" height="4" fill="#fff"/>
<rect x="319.33" y="613.50" width="7.70" height="4" fill="#fff"/>
<rect x="331.03" y="613.50" width="7.50" height="4" fill="#fff"/>
<rect x="424.63" y="919.60" width="7.70" height="4" fill="#fff"/>
<rect x="436.33" y="919.60" width="7.50" height="4" fill="#fff"/>
</svg>
</body></html>
